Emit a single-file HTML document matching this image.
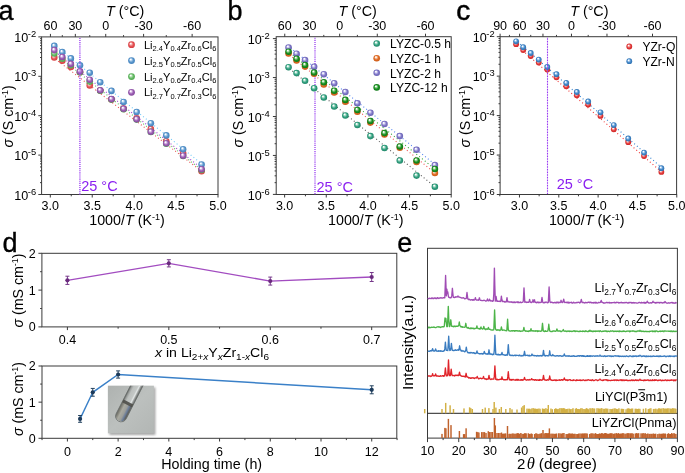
<!DOCTYPE html><html><head><meta charset="utf-8"><title>Figure</title><style>html,body{margin:0;padding:0;background:#fff;width:685px;height:473px;overflow:hidden}svg{display:block;font-family:"Liberation Sans",sans-serif;will-change:transform}</style></head><body><svg width="685" height="473" viewBox="0 0 685 473" font-family="Liberation Sans, sans-serif"><defs><radialGradient id="g_red" cx="0.5" cy="0.5" r="0.52" fx="0.36" fy="0.3"><stop offset="0" stop-color="#ffffff"/><stop offset="0.13" stop-color="#ffffff" stop-opacity="0.95"/><stop offset="0.3" stop-color="#f4b0b0"/><stop offset="0.62" stop-color="#e65456"/><stop offset="1" stop-color="#d43c40"/></radialGradient><radialGradient id="g_blue" cx="0.5" cy="0.5" r="0.52" fx="0.36" fy="0.3"><stop offset="0" stop-color="#ffffff"/><stop offset="0.13" stop-color="#ffffff" stop-opacity="0.95"/><stop offset="0.3" stop-color="#b4d2ee"/><stop offset="0.62" stop-color="#5896cc"/><stop offset="1" stop-color="#4682bc"/></radialGradient><radialGradient id="g_green" cx="0.5" cy="0.5" r="0.52" fx="0.36" fy="0.3"><stop offset="0" stop-color="#ffffff"/><stop offset="0.13" stop-color="#ffffff" stop-opacity="0.95"/><stop offset="0.3" stop-color="#b8e4b8"/><stop offset="0.62" stop-color="#68bc68"/><stop offset="1" stop-color="#4ca44c"/></radialGradient><radialGradient id="g_purple" cx="0.5" cy="0.5" r="0.52" fx="0.36" fy="0.3"><stop offset="0" stop-color="#ffffff"/><stop offset="0.13" stop-color="#ffffff" stop-opacity="0.95"/><stop offset="0.3" stop-color="#dcbce6"/><stop offset="0.62" stop-color="#9c60b4"/><stop offset="1" stop-color="#84489c"/></radialGradient><radialGradient id="g_teal" cx="0.5" cy="0.5" r="0.52" fx="0.36" fy="0.3"><stop offset="0" stop-color="#ffffff"/><stop offset="0.13" stop-color="#ffffff" stop-opacity="0.95"/><stop offset="0.3" stop-color="#a8dcc8"/><stop offset="0.62" stop-color="#34a282"/><stop offset="1" stop-color="#208466"/></radialGradient><radialGradient id="g_orange" cx="0.5" cy="0.5" r="0.52" fx="0.36" fy="0.3"><stop offset="0" stop-color="#ffffff"/><stop offset="0.13" stop-color="#ffffff" stop-opacity="0.95"/><stop offset="0.3" stop-color="#f4c4a0"/><stop offset="0.62" stop-color="#e26c26"/><stop offset="1" stop-color="#c85814"/></radialGradient><radialGradient id="g_lav" cx="0.5" cy="0.5" r="0.52" fx="0.36" fy="0.3"><stop offset="0" stop-color="#ffffff"/><stop offset="0.13" stop-color="#ffffff" stop-opacity="0.95"/><stop offset="0.3" stop-color="#ccc8f0"/><stop offset="0.62" stop-color="#8078c8"/><stop offset="1" stop-color="#6660b0"/></radialGradient><radialGradient id="g_dgreen" cx="0.5" cy="0.5" r="0.52" fx="0.36" fy="0.3"><stop offset="0" stop-color="#ffffff"/><stop offset="0.13" stop-color="#ffffff" stop-opacity="0.95"/><stop offset="0.3" stop-color="#98d498"/><stop offset="0.62" stop-color="#1c9224"/><stop offset="1" stop-color="#0a7412"/></radialGradient><radialGradient id="g_cred" cx="0.5" cy="0.5" r="0.52" fx="0.36" fy="0.3"><stop offset="0" stop-color="#ffffff"/><stop offset="0.13" stop-color="#ffffff" stop-opacity="0.95"/><stop offset="0.3" stop-color="#f4a8a8"/><stop offset="0.62" stop-color="#e43c3c"/><stop offset="1" stop-color="#cc2424"/></radialGradient><radialGradient id="g_cblue" cx="0.5" cy="0.5" r="0.52" fx="0.36" fy="0.3"><stop offset="0" stop-color="#ffffff"/><stop offset="0.13" stop-color="#ffffff" stop-opacity="0.95"/><stop offset="0.3" stop-color="#a8ccf0"/><stop offset="0.62" stop-color="#4488c8"/><stop offset="1" stop-color="#2e70b0"/></radialGradient></defs><rect width="685" height="473" fill="#fff"/><rect x="41.60" y="36.90" width="176.40" height="157.60" fill="none" stroke="#3a3a3a" stroke-width="1"/>
<line x1="50.43" y1="36.90" x2="50.43" y2="33.90" stroke="#3a3a3a" stroke-width="1" />
<line x1="75.34" y1="36.90" x2="75.34" y2="33.90" stroke="#3a3a3a" stroke-width="1" />
<line x1="105.72" y1="36.90" x2="105.72" y2="33.90" stroke="#3a3a3a" stroke-width="1" />
<line x1="143.60" y1="36.90" x2="143.60" y2="33.90" stroke="#3a3a3a" stroke-width="1" />
<line x1="192.13" y1="36.90" x2="192.13" y2="33.90" stroke="#3a3a3a" stroke-width="1" />
<line x1="62.30" y1="36.90" x2="62.30" y2="35.10" stroke="#3a3a3a" stroke-width="1" />
<line x1="89.74" y1="36.90" x2="89.74" y2="35.10" stroke="#3a3a3a" stroke-width="1" />
<line x1="123.56" y1="36.90" x2="123.56" y2="35.10" stroke="#3a3a3a" stroke-width="1" />
<line x1="166.27" y1="36.90" x2="166.27" y2="35.10" stroke="#3a3a3a" stroke-width="1" />
<text x="50.43" y="30.20" font-size="12.5" text-anchor="middle" fill="#000" >60</text>
<text x="75.34" y="30.20" font-size="12.5" text-anchor="middle" fill="#000" >30</text>
<text x="105.72" y="30.20" font-size="12.5" text-anchor="middle" fill="#000" >0</text>
<text x="143.60" y="30.20" font-size="12.5" text-anchor="middle" fill="#000" >-30</text>
<text x="192.13" y="30.20" font-size="12.5" text-anchor="middle" fill="#000" >-60</text>
<line x1="50.30" y1="194.50" x2="50.30" y2="197.50" stroke="#3a3a3a" stroke-width="1" />
<line x1="92.22" y1="194.50" x2="92.22" y2="197.50" stroke="#3a3a3a" stroke-width="1" />
<line x1="134.15" y1="194.50" x2="134.15" y2="197.50" stroke="#3a3a3a" stroke-width="1" />
<line x1="176.07" y1="194.50" x2="176.07" y2="197.50" stroke="#3a3a3a" stroke-width="1" />
<line x1="218.00" y1="194.50" x2="218.00" y2="197.50" stroke="#3a3a3a" stroke-width="1" />
<line x1="71.26" y1="194.50" x2="71.26" y2="196.30" stroke="#3a3a3a" stroke-width="1" />
<line x1="113.18" y1="194.50" x2="113.18" y2="196.30" stroke="#3a3a3a" stroke-width="1" />
<line x1="155.11" y1="194.50" x2="155.11" y2="196.30" stroke="#3a3a3a" stroke-width="1" />
<line x1="197.04" y1="194.50" x2="197.04" y2="196.30" stroke="#3a3a3a" stroke-width="1" />
<text x="50.30" y="210.40" font-size="12.5" text-anchor="middle" fill="#000" >3.0</text>
<text x="92.22" y="210.40" font-size="12.5" text-anchor="middle" fill="#000" >3.5</text>
<text x="134.15" y="210.40" font-size="12.5" text-anchor="middle" fill="#000" >4.0</text>
<text x="176.07" y="210.40" font-size="12.5" text-anchor="middle" fill="#000" >4.5</text>
<text x="218.00" y="210.40" font-size="12.5" text-anchor="middle" fill="#000" >5.0</text>
<line x1="41.60" y1="36.90" x2="38.30" y2="36.90" stroke="#3a3a3a" stroke-width="1" />
<line x1="41.60" y1="64.44" x2="40.00" y2="64.44" stroke="#3a3a3a" stroke-width="1" />
<line x1="41.60" y1="57.50" x2="40.00" y2="57.50" stroke="#3a3a3a" stroke-width="1" />
<line x1="41.60" y1="52.58" x2="40.00" y2="52.58" stroke="#3a3a3a" stroke-width="1" />
<line x1="41.60" y1="48.76" x2="40.00" y2="48.76" stroke="#3a3a3a" stroke-width="1" />
<line x1="41.60" y1="45.64" x2="40.00" y2="45.64" stroke="#3a3a3a" stroke-width="1" />
<line x1="41.60" y1="43.00" x2="40.00" y2="43.00" stroke="#3a3a3a" stroke-width="1" />
<line x1="41.60" y1="40.72" x2="40.00" y2="40.72" stroke="#3a3a3a" stroke-width="1" />
<line x1="41.60" y1="38.70" x2="40.00" y2="38.70" stroke="#3a3a3a" stroke-width="1" />
<line x1="41.60" y1="76.30" x2="38.30" y2="76.30" stroke="#3a3a3a" stroke-width="1" />
<line x1="41.60" y1="103.84" x2="40.00" y2="103.84" stroke="#3a3a3a" stroke-width="1" />
<line x1="41.60" y1="96.90" x2="40.00" y2="96.90" stroke="#3a3a3a" stroke-width="1" />
<line x1="41.60" y1="91.98" x2="40.00" y2="91.98" stroke="#3a3a3a" stroke-width="1" />
<line x1="41.60" y1="88.16" x2="40.00" y2="88.16" stroke="#3a3a3a" stroke-width="1" />
<line x1="41.60" y1="85.04" x2="40.00" y2="85.04" stroke="#3a3a3a" stroke-width="1" />
<line x1="41.60" y1="82.40" x2="40.00" y2="82.40" stroke="#3a3a3a" stroke-width="1" />
<line x1="41.60" y1="80.12" x2="40.00" y2="80.12" stroke="#3a3a3a" stroke-width="1" />
<line x1="41.60" y1="78.10" x2="40.00" y2="78.10" stroke="#3a3a3a" stroke-width="1" />
<line x1="41.60" y1="115.70" x2="38.30" y2="115.70" stroke="#3a3a3a" stroke-width="1" />
<line x1="41.60" y1="143.24" x2="40.00" y2="143.24" stroke="#3a3a3a" stroke-width="1" />
<line x1="41.60" y1="136.30" x2="40.00" y2="136.30" stroke="#3a3a3a" stroke-width="1" />
<line x1="41.60" y1="131.38" x2="40.00" y2="131.38" stroke="#3a3a3a" stroke-width="1" />
<line x1="41.60" y1="127.56" x2="40.00" y2="127.56" stroke="#3a3a3a" stroke-width="1" />
<line x1="41.60" y1="124.44" x2="40.00" y2="124.44" stroke="#3a3a3a" stroke-width="1" />
<line x1="41.60" y1="121.80" x2="40.00" y2="121.80" stroke="#3a3a3a" stroke-width="1" />
<line x1="41.60" y1="119.52" x2="40.00" y2="119.52" stroke="#3a3a3a" stroke-width="1" />
<line x1="41.60" y1="117.50" x2="40.00" y2="117.50" stroke="#3a3a3a" stroke-width="1" />
<line x1="41.60" y1="155.10" x2="38.30" y2="155.10" stroke="#3a3a3a" stroke-width="1" />
<line x1="41.60" y1="182.64" x2="40.00" y2="182.64" stroke="#3a3a3a" stroke-width="1" />
<line x1="41.60" y1="175.70" x2="40.00" y2="175.70" stroke="#3a3a3a" stroke-width="1" />
<line x1="41.60" y1="170.78" x2="40.00" y2="170.78" stroke="#3a3a3a" stroke-width="1" />
<line x1="41.60" y1="166.96" x2="40.00" y2="166.96" stroke="#3a3a3a" stroke-width="1" />
<line x1="41.60" y1="163.84" x2="40.00" y2="163.84" stroke="#3a3a3a" stroke-width="1" />
<line x1="41.60" y1="161.20" x2="40.00" y2="161.20" stroke="#3a3a3a" stroke-width="1" />
<line x1="41.60" y1="158.92" x2="40.00" y2="158.92" stroke="#3a3a3a" stroke-width="1" />
<line x1="41.60" y1="156.90" x2="40.00" y2="156.90" stroke="#3a3a3a" stroke-width="1" />
<line x1="41.60" y1="194.50" x2="38.30" y2="194.50" stroke="#3a3a3a" stroke-width="1" />
<text x="36.20" y="42.00" font-size="12.6" text-anchor="end" fill="#000">10<tspan font-size="9.4" dx="-0.4" dy="-5.0">-2</tspan></text>
<text x="36.20" y="81.40" font-size="12.6" text-anchor="end" fill="#000">10<tspan font-size="9.4" dx="-0.4" dy="-5.0">-3</tspan></text>
<text x="36.20" y="120.80" font-size="12.6" text-anchor="end" fill="#000">10<tspan font-size="9.4" dx="-0.4" dy="-5.0">-4</tspan></text>
<text x="36.20" y="160.20" font-size="12.6" text-anchor="end" fill="#000">10<tspan font-size="9.4" dx="-0.4" dy="-5.0">-5</tspan></text>
<text x="36.20" y="199.60" font-size="12.6" text-anchor="end" fill="#000">10<tspan font-size="9.4" dx="-0.4" dy="-5.0">-6</tspan></text>
<path d="M55.27,58.90 L201.58,171.30" fill="none" stroke="#e85050" stroke-width="1.1" stroke-dasharray="1 2.6"/>
<path d="M55.77,54.40 L201.58,170.00" fill="none" stroke="#58c058" stroke-width="1.1" stroke-dasharray="1 2.6"/>
<path d="M55.27,51.60 L202.58,169.20" fill="none" stroke="#a040d0" stroke-width="1.1" stroke-dasharray="1 2.6"/>
<path d="M56.27,46.40 L203.08,165.00" fill="none" stroke="#70c8f8" stroke-width="1.1" stroke-dasharray="1 2.6"/>
<circle cx="54.27" cy="57.40" r="3.3" fill="url(#g_red)"/>
<circle cx="62.30" cy="60.70" r="3.3" fill="url(#g_red)"/>
<circle cx="70.85" cy="67.00" r="3.3" fill="url(#g_red)"/>
<circle cx="79.98" cy="72.20" r="3.3" fill="url(#g_red)"/>
<circle cx="89.74" cy="85.40" r="3.3" fill="url(#g_red)"/>
<circle cx="100.20" cy="90.60" r="3.3" fill="url(#g_red)"/>
<circle cx="111.45" cy="99.40" r="3.3" fill="url(#g_red)"/>
<circle cx="123.56" cy="108.60" r="3.3" fill="url(#g_red)"/>
<circle cx="136.65" cy="118.20" r="3.3" fill="url(#g_red)"/>
<circle cx="150.84" cy="129.00" r="3.3" fill="url(#g_red)"/>
<circle cx="166.27" cy="141.20" r="3.3" fill="url(#g_red)"/>
<circle cx="183.12" cy="153.20" r="3.3" fill="url(#g_red)"/>
<circle cx="201.58" cy="171.30" r="3.3" fill="url(#g_red)"/>
<circle cx="54.27" cy="45.90" r="3.3" fill="url(#g_blue)"/>
<circle cx="62.30" cy="52.10" r="3.3" fill="url(#g_blue)"/>
<circle cx="70.85" cy="58.40" r="3.3" fill="url(#g_blue)"/>
<circle cx="79.98" cy="65.30" r="3.3" fill="url(#g_blue)"/>
<circle cx="89.74" cy="72.70" r="3.3" fill="url(#g_blue)"/>
<circle cx="100.20" cy="82.20" r="3.3" fill="url(#g_blue)"/>
<circle cx="111.45" cy="90.90" r="3.3" fill="url(#g_blue)"/>
<circle cx="123.56" cy="102.00" r="3.3" fill="url(#g_blue)"/>
<circle cx="136.65" cy="112.00" r="3.3" fill="url(#g_blue)"/>
<circle cx="150.84" cy="123.20" r="3.3" fill="url(#g_blue)"/>
<circle cx="166.27" cy="135.40" r="3.3" fill="url(#g_blue)"/>
<circle cx="183.12" cy="149.30" r="3.3" fill="url(#g_blue)"/>
<circle cx="201.58" cy="164.50" r="3.3" fill="url(#g_blue)"/>
<circle cx="54.27" cy="53.40" r="3.3" fill="url(#g_green)"/>
<circle cx="62.30" cy="58.70" r="3.3" fill="url(#g_green)"/>
<circle cx="70.85" cy="65.30" r="3.3" fill="url(#g_green)"/>
<circle cx="79.98" cy="72.20" r="3.3" fill="url(#g_green)"/>
<circle cx="89.74" cy="81.60" r="3.3" fill="url(#g_green)"/>
<circle cx="100.20" cy="90.80" r="3.3" fill="url(#g_green)"/>
<circle cx="111.45" cy="99.60" r="3.3" fill="url(#g_green)"/>
<circle cx="123.56" cy="109.20" r="3.3" fill="url(#g_green)"/>
<circle cx="136.65" cy="119.60" r="3.3" fill="url(#g_green)"/>
<circle cx="150.84" cy="131.90" r="3.3" fill="url(#g_green)"/>
<circle cx="166.27" cy="143.70" r="3.3" fill="url(#g_green)"/>
<circle cx="183.12" cy="156.00" r="3.3" fill="url(#g_green)"/>
<circle cx="201.58" cy="170.00" r="3.3" fill="url(#g_green)"/>
<circle cx="54.27" cy="50.10" r="3.3" fill="url(#g_purple)"/>
<circle cx="62.30" cy="57.00" r="3.3" fill="url(#g_purple)"/>
<circle cx="70.85" cy="63.90" r="3.3" fill="url(#g_purple)"/>
<circle cx="79.98" cy="71.40" r="3.3" fill="url(#g_purple)"/>
<circle cx="89.74" cy="79.70" r="3.3" fill="url(#g_purple)"/>
<circle cx="100.20" cy="90.30" r="3.3" fill="url(#g_purple)"/>
<circle cx="111.45" cy="99.10" r="3.3" fill="url(#g_purple)"/>
<circle cx="123.56" cy="108.80" r="3.3" fill="url(#g_purple)"/>
<circle cx="136.65" cy="119.20" r="3.3" fill="url(#g_purple)"/>
<circle cx="150.84" cy="131.70" r="3.3" fill="url(#g_purple)"/>
<circle cx="166.27" cy="143.30" r="3.3" fill="url(#g_purple)"/>
<circle cx="183.12" cy="155.70" r="3.3" fill="url(#g_purple)"/>
<circle cx="201.58" cy="169.20" r="3.3" fill="url(#g_purple)"/>
<path d="M79.15,37.90h1.5v1.1h-1.5zM79.15,40.00h1.5v1.1h-1.5zM79.15,42.10h1.5v1.1h-1.5zM79.15,44.20h1.5v1.1h-1.5zM79.15,46.30h1.5v1.1h-1.5zM79.15,48.40h1.5v1.1h-1.5zM79.15,50.50h1.5v1.1h-1.5zM79.15,52.60h1.5v1.1h-1.5zM79.15,54.70h1.5v1.1h-1.5zM79.15,56.80h1.5v1.1h-1.5zM79.15,58.90h1.5v1.1h-1.5zM79.15,61.00h1.5v1.1h-1.5zM79.15,63.10h1.5v1.1h-1.5zM79.15,65.20h1.5v1.1h-1.5zM79.15,67.30h1.5v1.1h-1.5zM79.15,69.40h1.5v1.1h-1.5zM79.15,71.50h1.5v1.1h-1.5zM79.15,73.60h1.5v1.1h-1.5zM79.15,75.70h1.5v1.1h-1.5zM79.15,77.80h1.5v1.1h-1.5zM79.15,79.90h1.5v1.1h-1.5zM79.15,82.00h1.5v1.1h-1.5zM79.15,84.10h1.5v1.1h-1.5zM79.15,86.20h1.5v1.1h-1.5zM79.15,88.30h1.5v1.1h-1.5zM79.15,90.40h1.5v1.1h-1.5zM79.15,92.50h1.5v1.1h-1.5zM79.15,94.60h1.5v1.1h-1.5zM79.15,96.70h1.5v1.1h-1.5zM79.15,98.80h1.5v1.1h-1.5zM79.15,100.90h1.5v1.1h-1.5zM79.15,103.00h1.5v1.1h-1.5zM79.15,105.10h1.5v1.1h-1.5zM79.15,107.20h1.5v1.1h-1.5zM79.15,109.30h1.5v1.1h-1.5zM79.15,111.40h1.5v1.1h-1.5zM79.15,113.50h1.5v1.1h-1.5zM79.15,115.60h1.5v1.1h-1.5zM79.15,117.70h1.5v1.1h-1.5zM79.15,119.80h1.5v1.1h-1.5zM79.15,121.90h1.5v1.1h-1.5zM79.15,124.00h1.5v1.1h-1.5zM79.15,126.10h1.5v1.1h-1.5zM79.15,128.20h1.5v1.1h-1.5zM79.15,130.30h1.5v1.1h-1.5zM79.15,132.40h1.5v1.1h-1.5zM79.15,134.50h1.5v1.1h-1.5zM79.15,136.60h1.5v1.1h-1.5zM79.15,138.70h1.5v1.1h-1.5zM79.15,140.80h1.5v1.1h-1.5zM79.15,142.90h1.5v1.1h-1.5zM79.15,145.00h1.5v1.1h-1.5zM79.15,147.10h1.5v1.1h-1.5zM79.15,149.20h1.5v1.1h-1.5zM79.15,151.30h1.5v1.1h-1.5zM79.15,153.40h1.5v1.1h-1.5zM79.15,155.50h1.5v1.1h-1.5zM79.15,157.60h1.5v1.1h-1.5zM79.15,159.70h1.5v1.1h-1.5zM79.15,161.80h1.5v1.1h-1.5zM79.15,163.90h1.5v1.1h-1.5zM79.15,166.00h1.5v1.1h-1.5zM79.15,168.10h1.5v1.1h-1.5zM79.15,170.20h1.5v1.1h-1.5zM79.15,172.30h1.5v1.1h-1.5zM79.15,174.40h1.5v1.1h-1.5zM79.15,176.50h1.5v1.1h-1.5zM79.15,178.60h1.5v1.1h-1.5zM79.15,180.70h1.5v1.1h-1.5zM79.15,182.80h1.5v1.1h-1.5zM79.15,184.90h1.5v1.1h-1.5zM79.15,187.00h1.5v1.1h-1.5zM79.15,189.10h1.5v1.1h-1.5zM79.15,191.20h1.5v1.1h-1.5zM79.15,193.30h1.5v1.1h-1.5z" fill="#a452f2"/>
<circle cx="131.50" cy="44.70" r="3.4" fill="url(#g_red)"/>
<text x="143.9" y="48.70" font-size="11.1" fill="#000"><tspan>Li</tspan><tspan font-size="7.50" dy="2.70">2.4</tspan><tspan dy="-2.70">Y</tspan><tspan font-size="7.50" dy="2.70">0.4</tspan><tspan dy="-2.70">Zr</tspan><tspan font-size="7.50" dy="2.70">0.6</tspan><tspan dy="-2.70">Cl</tspan><tspan font-size="7.50" dy="2.70">6</tspan></text>
<circle cx="131.50" cy="60.60" r="3.4" fill="url(#g_blue)"/>
<text x="143.9" y="64.60" font-size="11.1" fill="#000"><tspan>Li</tspan><tspan font-size="7.50" dy="2.70">2.5</tspan><tspan dy="-2.70">Y</tspan><tspan font-size="7.50" dy="2.70">0.5</tspan><tspan dy="-2.70">Zr</tspan><tspan font-size="7.50" dy="2.70">0.5</tspan><tspan dy="-2.70">Cl</tspan><tspan font-size="7.50" dy="2.70">6</tspan></text>
<circle cx="131.50" cy="76.60" r="3.4" fill="url(#g_green)"/>
<text x="143.9" y="80.60" font-size="11.1" fill="#000"><tspan>Li</tspan><tspan font-size="7.50" dy="2.70">2.6</tspan><tspan dy="-2.70">Y</tspan><tspan font-size="7.50" dy="2.70">0.6</tspan><tspan dy="-2.70">Zr</tspan><tspan font-size="7.50" dy="2.70">0.4</tspan><tspan dy="-2.70">Cl</tspan><tspan font-size="7.50" dy="2.70">6</tspan></text>
<circle cx="131.50" cy="92.30" r="3.4" fill="url(#g_purple)"/>
<text x="143.9" y="96.30" font-size="11.1" fill="#000"><tspan>Li</tspan><tspan font-size="7.50" dy="2.70">2.7</tspan><tspan dy="-2.70">Y</tspan><tspan font-size="7.50" dy="2.70">0.7</tspan><tspan dy="-2.70">Zr</tspan><tspan font-size="7.50" dy="2.70">0.3</tspan><tspan dy="-2.70">Cl</tspan><tspan font-size="7.50" dy="2.70">6</tspan></text>
<text x="106.00" y="15.80" font-size="14.3" text-anchor="start" fill="#000" ><tspan font-style="italic">T</tspan> (°C)</text>
<text x="89.20" y="224.80" font-size="14.3" text-anchor="start" fill="#000" >1000/<tspan font-style="italic">T</tspan> (K<tspan font-size="9" dy="-5">-1</tspan><tspan dy="5">)</tspan></text>
<text transform="translate(13.2,116.3) rotate(-90)" x="0" y="0" font-size="14.2" text-anchor="middle" fill="#000"><tspan font-style="italic">σ</tspan> (S cm<tspan font-size="9" dy="-5">-1</tspan><tspan dy="5">)</tspan></text>
<text x="81.20" y="191.20" font-size="14.5" text-anchor="start" fill="#8a1ff0" >25 °C</text>
<text x="-1.40" y="19.70" font-size="27" text-anchor="start" fill="#000" stroke="#000" stroke-width="0.35">a</text>
<rect x="276.20" y="36.70" width="175.00" height="157.80" fill="none" stroke="#3a3a3a" stroke-width="1"/>
<line x1="284.75" y1="36.70" x2="284.75" y2="33.70" stroke="#3a3a3a" stroke-width="1" />
<line x1="309.49" y1="36.70" x2="309.49" y2="33.70" stroke="#3a3a3a" stroke-width="1" />
<line x1="339.67" y1="36.70" x2="339.67" y2="33.70" stroke="#3a3a3a" stroke-width="1" />
<line x1="377.29" y1="36.70" x2="377.29" y2="33.70" stroke="#3a3a3a" stroke-width="1" />
<line x1="425.51" y1="36.70" x2="425.51" y2="33.70" stroke="#3a3a3a" stroke-width="1" />
<line x1="296.54" y1="36.70" x2="296.54" y2="34.90" stroke="#3a3a3a" stroke-width="1" />
<line x1="323.79" y1="36.70" x2="323.79" y2="34.90" stroke="#3a3a3a" stroke-width="1" />
<line x1="357.39" y1="36.70" x2="357.39" y2="34.90" stroke="#3a3a3a" stroke-width="1" />
<line x1="399.81" y1="36.70" x2="399.81" y2="34.90" stroke="#3a3a3a" stroke-width="1" />
<text x="284.75" y="30.20" font-size="12.5" text-anchor="middle" fill="#000" >60</text>
<text x="309.49" y="30.20" font-size="12.5" text-anchor="middle" fill="#000" >30</text>
<text x="339.67" y="30.20" font-size="12.5" text-anchor="middle" fill="#000" >0</text>
<text x="377.29" y="30.20" font-size="12.5" text-anchor="middle" fill="#000" >-30</text>
<text x="425.51" y="30.20" font-size="12.5" text-anchor="middle" fill="#000" >-60</text>
<line x1="284.61" y1="194.50" x2="284.61" y2="197.50" stroke="#3a3a3a" stroke-width="1" />
<line x1="326.26" y1="194.50" x2="326.26" y2="197.50" stroke="#3a3a3a" stroke-width="1" />
<line x1="367.90" y1="194.50" x2="367.90" y2="197.50" stroke="#3a3a3a" stroke-width="1" />
<line x1="409.55" y1="194.50" x2="409.55" y2="197.50" stroke="#3a3a3a" stroke-width="1" />
<line x1="451.20" y1="194.50" x2="451.20" y2="197.50" stroke="#3a3a3a" stroke-width="1" />
<line x1="305.43" y1="194.50" x2="305.43" y2="196.30" stroke="#3a3a3a" stroke-width="1" />
<line x1="347.08" y1="194.50" x2="347.08" y2="196.30" stroke="#3a3a3a" stroke-width="1" />
<line x1="388.73" y1="194.50" x2="388.73" y2="196.30" stroke="#3a3a3a" stroke-width="1" />
<line x1="430.38" y1="194.50" x2="430.38" y2="196.30" stroke="#3a3a3a" stroke-width="1" />
<text x="284.61" y="210.40" font-size="12.5" text-anchor="middle" fill="#000" >3.0</text>
<text x="326.26" y="210.40" font-size="12.5" text-anchor="middle" fill="#000" >3.5</text>
<text x="367.90" y="210.40" font-size="12.5" text-anchor="middle" fill="#000" >4.0</text>
<text x="409.55" y="210.40" font-size="12.5" text-anchor="middle" fill="#000" >4.5</text>
<text x="451.20" y="210.40" font-size="12.5" text-anchor="middle" fill="#000" >5.0</text>
<line x1="276.20" y1="38.60" x2="272.90" y2="38.60" stroke="#3a3a3a" stroke-width="1" />
<line x1="276.20" y1="65.82" x2="274.60" y2="65.82" stroke="#3a3a3a" stroke-width="1" />
<line x1="276.20" y1="58.97" x2="274.60" y2="58.97" stroke="#3a3a3a" stroke-width="1" />
<line x1="276.20" y1="54.10" x2="274.60" y2="54.10" stroke="#3a3a3a" stroke-width="1" />
<line x1="276.20" y1="50.33" x2="274.60" y2="50.33" stroke="#3a3a3a" stroke-width="1" />
<line x1="276.20" y1="47.24" x2="274.60" y2="47.24" stroke="#3a3a3a" stroke-width="1" />
<line x1="276.20" y1="44.63" x2="274.60" y2="44.63" stroke="#3a3a3a" stroke-width="1" />
<line x1="276.20" y1="42.37" x2="274.60" y2="42.37" stroke="#3a3a3a" stroke-width="1" />
<line x1="276.20" y1="40.38" x2="274.60" y2="40.38" stroke="#3a3a3a" stroke-width="1" />
<line x1="276.20" y1="77.55" x2="272.90" y2="77.55" stroke="#3a3a3a" stroke-width="1" />
<line x1="276.20" y1="104.77" x2="274.60" y2="104.77" stroke="#3a3a3a" stroke-width="1" />
<line x1="276.20" y1="97.92" x2="274.60" y2="97.92" stroke="#3a3a3a" stroke-width="1" />
<line x1="276.20" y1="93.05" x2="274.60" y2="93.05" stroke="#3a3a3a" stroke-width="1" />
<line x1="276.20" y1="89.28" x2="274.60" y2="89.28" stroke="#3a3a3a" stroke-width="1" />
<line x1="276.20" y1="86.19" x2="274.60" y2="86.19" stroke="#3a3a3a" stroke-width="1" />
<line x1="276.20" y1="83.58" x2="274.60" y2="83.58" stroke="#3a3a3a" stroke-width="1" />
<line x1="276.20" y1="81.32" x2="274.60" y2="81.32" stroke="#3a3a3a" stroke-width="1" />
<line x1="276.20" y1="79.33" x2="274.60" y2="79.33" stroke="#3a3a3a" stroke-width="1" />
<line x1="276.20" y1="116.50" x2="272.90" y2="116.50" stroke="#3a3a3a" stroke-width="1" />
<line x1="276.20" y1="143.72" x2="274.60" y2="143.72" stroke="#3a3a3a" stroke-width="1" />
<line x1="276.20" y1="136.87" x2="274.60" y2="136.87" stroke="#3a3a3a" stroke-width="1" />
<line x1="276.20" y1="132.00" x2="274.60" y2="132.00" stroke="#3a3a3a" stroke-width="1" />
<line x1="276.20" y1="128.23" x2="274.60" y2="128.23" stroke="#3a3a3a" stroke-width="1" />
<line x1="276.20" y1="125.14" x2="274.60" y2="125.14" stroke="#3a3a3a" stroke-width="1" />
<line x1="276.20" y1="122.53" x2="274.60" y2="122.53" stroke="#3a3a3a" stroke-width="1" />
<line x1="276.20" y1="120.27" x2="274.60" y2="120.27" stroke="#3a3a3a" stroke-width="1" />
<line x1="276.20" y1="118.28" x2="274.60" y2="118.28" stroke="#3a3a3a" stroke-width="1" />
<line x1="276.20" y1="155.45" x2="272.90" y2="155.45" stroke="#3a3a3a" stroke-width="1" />
<line x1="276.20" y1="182.67" x2="274.60" y2="182.67" stroke="#3a3a3a" stroke-width="1" />
<line x1="276.20" y1="175.82" x2="274.60" y2="175.82" stroke="#3a3a3a" stroke-width="1" />
<line x1="276.20" y1="170.95" x2="274.60" y2="170.95" stroke="#3a3a3a" stroke-width="1" />
<line x1="276.20" y1="167.18" x2="274.60" y2="167.18" stroke="#3a3a3a" stroke-width="1" />
<line x1="276.20" y1="164.09" x2="274.60" y2="164.09" stroke="#3a3a3a" stroke-width="1" />
<line x1="276.20" y1="161.48" x2="274.60" y2="161.48" stroke="#3a3a3a" stroke-width="1" />
<line x1="276.20" y1="159.22" x2="274.60" y2="159.22" stroke="#3a3a3a" stroke-width="1" />
<line x1="276.20" y1="157.23" x2="274.60" y2="157.23" stroke="#3a3a3a" stroke-width="1" />
<line x1="276.20" y1="194.40" x2="272.90" y2="194.40" stroke="#3a3a3a" stroke-width="1" />
<text x="269.70" y="43.70" font-size="12.6" text-anchor="end" fill="#000">10<tspan font-size="9.4" dx="-0.4" dy="-5.0">-2</tspan></text>
<text x="269.70" y="82.65" font-size="12.6" text-anchor="end" fill="#000">10<tspan font-size="9.4" dx="-0.4" dy="-5.0">-3</tspan></text>
<text x="269.70" y="121.60" font-size="12.6" text-anchor="end" fill="#000">10<tspan font-size="9.4" dx="-0.4" dy="-5.0">-4</tspan></text>
<text x="269.70" y="160.55" font-size="12.6" text-anchor="end" fill="#000">10<tspan font-size="9.4" dx="-0.4" dy="-5.0">-5</tspan></text>
<text x="269.70" y="199.50" font-size="12.6" text-anchor="end" fill="#000">10<tspan font-size="9.4" dx="-0.4" dy="-5.0">-6</tspan></text>
<path d="M314.25,37.70h1.5v1.1h-1.5zM314.25,39.80h1.5v1.1h-1.5zM314.25,41.90h1.5v1.1h-1.5zM314.25,44.00h1.5v1.1h-1.5zM314.25,46.10h1.5v1.1h-1.5zM314.25,48.20h1.5v1.1h-1.5zM314.25,50.30h1.5v1.1h-1.5zM314.25,52.40h1.5v1.1h-1.5zM314.25,54.50h1.5v1.1h-1.5zM314.25,56.60h1.5v1.1h-1.5zM314.25,58.70h1.5v1.1h-1.5zM314.25,60.80h1.5v1.1h-1.5zM314.25,62.90h1.5v1.1h-1.5zM314.25,65.00h1.5v1.1h-1.5zM314.25,67.10h1.5v1.1h-1.5zM314.25,69.20h1.5v1.1h-1.5zM314.25,71.30h1.5v1.1h-1.5zM314.25,73.40h1.5v1.1h-1.5zM314.25,75.50h1.5v1.1h-1.5zM314.25,77.60h1.5v1.1h-1.5zM314.25,79.70h1.5v1.1h-1.5zM314.25,81.80h1.5v1.1h-1.5zM314.25,83.90h1.5v1.1h-1.5zM314.25,86.00h1.5v1.1h-1.5zM314.25,88.10h1.5v1.1h-1.5zM314.25,90.20h1.5v1.1h-1.5zM314.25,92.30h1.5v1.1h-1.5zM314.25,94.40h1.5v1.1h-1.5zM314.25,96.50h1.5v1.1h-1.5zM314.25,98.60h1.5v1.1h-1.5zM314.25,100.70h1.5v1.1h-1.5zM314.25,102.80h1.5v1.1h-1.5zM314.25,104.90h1.5v1.1h-1.5zM314.25,107.00h1.5v1.1h-1.5zM314.25,109.10h1.5v1.1h-1.5zM314.25,111.20h1.5v1.1h-1.5zM314.25,113.30h1.5v1.1h-1.5zM314.25,115.40h1.5v1.1h-1.5zM314.25,117.50h1.5v1.1h-1.5zM314.25,119.60h1.5v1.1h-1.5zM314.25,121.70h1.5v1.1h-1.5zM314.25,123.80h1.5v1.1h-1.5zM314.25,125.90h1.5v1.1h-1.5zM314.25,128.00h1.5v1.1h-1.5zM314.25,130.10h1.5v1.1h-1.5zM314.25,132.20h1.5v1.1h-1.5zM314.25,134.30h1.5v1.1h-1.5zM314.25,136.40h1.5v1.1h-1.5zM314.25,138.50h1.5v1.1h-1.5zM314.25,140.60h1.5v1.1h-1.5zM314.25,142.70h1.5v1.1h-1.5zM314.25,144.80h1.5v1.1h-1.5zM314.25,146.90h1.5v1.1h-1.5zM314.25,149.00h1.5v1.1h-1.5zM314.25,151.10h1.5v1.1h-1.5zM314.25,153.20h1.5v1.1h-1.5zM314.25,155.30h1.5v1.1h-1.5zM314.25,157.40h1.5v1.1h-1.5zM314.25,159.50h1.5v1.1h-1.5zM314.25,161.60h1.5v1.1h-1.5zM314.25,163.70h1.5v1.1h-1.5zM314.25,165.80h1.5v1.1h-1.5zM314.25,167.90h1.5v1.1h-1.5zM314.25,170.00h1.5v1.1h-1.5zM314.25,172.10h1.5v1.1h-1.5zM314.25,174.20h1.5v1.1h-1.5zM314.25,176.30h1.5v1.1h-1.5zM314.25,178.40h1.5v1.1h-1.5zM314.25,180.50h1.5v1.1h-1.5zM314.25,182.60h1.5v1.1h-1.5zM314.25,184.70h1.5v1.1h-1.5zM314.25,186.80h1.5v1.1h-1.5zM314.25,188.90h1.5v1.1h-1.5zM314.25,191.00h1.5v1.1h-1.5zM314.25,193.10h1.5v1.1h-1.5z" fill="#a658f2"/>
<path d="M289.56,68.70 L434.89,186.70" fill="none" stroke="#555555" stroke-width="1.1" stroke-dasharray="1 2.6"/>
<path d="M289.56,54.90 L434.89,173.00" fill="none" stroke="#f05050" stroke-width="1.1" stroke-dasharray="1 2.6"/>
<path d="M290.06,52.70 L434.89,169.00" fill="none" stroke="#30a030" stroke-width="1.1" stroke-dasharray="1 2.6"/>
<path d="M290.56,48.00 L436.39,165.60" fill="none" stroke="#5080f0" stroke-width="1.1" stroke-dasharray="1 2.6"/>
<circle cx="288.56" cy="67.20" r="3.3" fill="url(#g_teal)"/>
<circle cx="296.54" cy="73.10" r="3.3" fill="url(#g_teal)"/>
<circle cx="305.03" cy="80.80" r="3.3" fill="url(#g_teal)"/>
<circle cx="314.10" cy="88.20" r="3.3" fill="url(#g_teal)"/>
<circle cx="323.79" cy="97.50" r="3.3" fill="url(#g_teal)"/>
<circle cx="334.19" cy="106.50" r="3.3" fill="url(#g_teal)"/>
<circle cx="345.35" cy="115.50" r="3.3" fill="url(#g_teal)"/>
<circle cx="357.39" cy="125.00" r="3.3" fill="url(#g_teal)"/>
<circle cx="370.39" cy="136.10" r="3.3" fill="url(#g_teal)"/>
<circle cx="384.48" cy="148.00" r="3.3" fill="url(#g_teal)"/>
<circle cx="399.81" cy="160.50" r="3.3" fill="url(#g_teal)"/>
<circle cx="416.55" cy="175.60" r="3.3" fill="url(#g_teal)"/>
<circle cx="434.89" cy="186.70" r="3.3" fill="url(#g_teal)"/>
<circle cx="288.56" cy="53.40" r="3.3" fill="url(#g_orange)"/>
<circle cx="296.54" cy="60.40" r="3.3" fill="url(#g_orange)"/>
<circle cx="305.03" cy="66.60" r="3.3" fill="url(#g_orange)"/>
<circle cx="314.10" cy="73.80" r="3.3" fill="url(#g_orange)"/>
<circle cx="323.79" cy="84.50" r="3.3" fill="url(#g_orange)"/>
<circle cx="334.19" cy="92.40" r="3.3" fill="url(#g_orange)"/>
<circle cx="345.35" cy="101.70" r="3.3" fill="url(#g_orange)"/>
<circle cx="357.39" cy="111.80" r="3.3" fill="url(#g_orange)"/>
<circle cx="370.39" cy="122.60" r="3.3" fill="url(#g_orange)"/>
<circle cx="384.48" cy="134.50" r="3.3" fill="url(#g_orange)"/>
<circle cx="399.81" cy="147.80" r="3.3" fill="url(#g_orange)"/>
<circle cx="416.55" cy="162.00" r="3.3" fill="url(#g_orange)"/>
<circle cx="434.89" cy="173.00" r="3.3" fill="url(#g_orange)"/>
<circle cx="288.56" cy="47.50" r="3.3" fill="url(#g_lav)"/>
<circle cx="296.54" cy="53.70" r="3.3" fill="url(#g_lav)"/>
<circle cx="305.03" cy="60.00" r="3.3" fill="url(#g_lav)"/>
<circle cx="314.10" cy="66.80" r="3.3" fill="url(#g_lav)"/>
<circle cx="323.79" cy="74.20" r="3.3" fill="url(#g_lav)"/>
<circle cx="334.19" cy="83.20" r="3.3" fill="url(#g_lav)"/>
<circle cx="345.35" cy="92.00" r="3.3" fill="url(#g_lav)"/>
<circle cx="357.39" cy="103.30" r="3.3" fill="url(#g_lav)"/>
<circle cx="370.39" cy="112.70" r="3.3" fill="url(#g_lav)"/>
<circle cx="384.48" cy="124.00" r="3.3" fill="url(#g_lav)"/>
<circle cx="399.81" cy="136.10" r="3.3" fill="url(#g_lav)"/>
<circle cx="416.55" cy="149.80" r="3.3" fill="url(#g_lav)"/>
<circle cx="434.89" cy="165.10" r="3.3" fill="url(#g_lav)"/>
<circle cx="288.56" cy="51.70" r="3.3" fill="url(#g_dgreen)"/>
<circle cx="296.54" cy="58.70" r="3.3" fill="url(#g_dgreen)"/>
<circle cx="305.03" cy="65.00" r="3.3" fill="url(#g_dgreen)"/>
<circle cx="314.10" cy="72.50" r="3.3" fill="url(#g_dgreen)"/>
<circle cx="323.79" cy="82.20" r="3.3" fill="url(#g_dgreen)"/>
<circle cx="334.19" cy="90.70" r="3.3" fill="url(#g_dgreen)"/>
<circle cx="345.35" cy="99.90" r="3.3" fill="url(#g_dgreen)"/>
<circle cx="357.39" cy="110.00" r="3.3" fill="url(#g_dgreen)"/>
<circle cx="370.39" cy="121.00" r="3.3" fill="url(#g_dgreen)"/>
<circle cx="384.48" cy="133.10" r="3.3" fill="url(#g_dgreen)"/>
<circle cx="399.81" cy="146.50" r="3.3" fill="url(#g_dgreen)"/>
<circle cx="416.55" cy="160.50" r="3.3" fill="url(#g_dgreen)"/>
<circle cx="434.89" cy="169.00" r="3.3" fill="url(#g_dgreen)"/>
<circle cx="376.70" cy="43.50" r="3.3" fill="url(#g_teal)"/>
<text x="390.10" y="48.20" font-size="12.1" text-anchor="start" fill="#000" >LYZC-0.5 h</text>
<circle cx="376.70" cy="58.20" r="3.3" fill="url(#g_orange)"/>
<text x="390.10" y="62.90" font-size="12.1" text-anchor="start" fill="#000" >LYZC-1 h</text>
<circle cx="376.70" cy="72.80" r="3.3" fill="url(#g_lav)"/>
<text x="390.10" y="77.50" font-size="12.1" text-anchor="start" fill="#000" >LYZC-2 h</text>
<circle cx="376.70" cy="87.40" r="3.3" fill="url(#g_dgreen)"/>
<text x="390.10" y="92.10" font-size="12.1" text-anchor="start" fill="#000" >LYZC-12 h</text>
<text x="338.50" y="15.80" font-size="14.3" text-anchor="start" fill="#000" ><tspan font-style="italic">T</tspan> (°C)</text>
<text x="328.00" y="224.80" font-size="14.3" text-anchor="start" fill="#000" >1000/<tspan font-style="italic">T</tspan> (K<tspan font-size="9" dy="-5">-1</tspan><tspan dy="5">)</tspan></text>
<text transform="translate(242.5,116.3) rotate(-90)" x="0" y="0" font-size="14.2" text-anchor="middle" fill="#000"><tspan font-style="italic">σ</tspan> (S cm<tspan font-size="9" dy="-5">-1</tspan><tspan dy="5">)</tspan></text>
<text x="316.50" y="191.50" font-size="14.5" text-anchor="start" fill="#8a1ff0" >25 °C</text>
<text x="227.40" y="19.70" font-size="27" text-anchor="start" fill="#000" stroke="#000" stroke-width="0.35">b</text>
<rect x="500.10" y="36.70" width="176.50" height="157.80" fill="none" stroke="#3a3a3a" stroke-width="1"/>
<line x1="500.10" y1="36.70" x2="500.10" y2="33.70" stroke="#3a3a3a" stroke-width="1" />
<line x1="519.60" y1="36.70" x2="519.60" y2="33.70" stroke="#3a3a3a" stroke-width="1" />
<line x1="542.96" y1="36.70" x2="542.96" y2="33.70" stroke="#3a3a3a" stroke-width="1" />
<line x1="571.46" y1="36.70" x2="571.46" y2="33.70" stroke="#3a3a3a" stroke-width="1" />
<line x1="606.98" y1="36.70" x2="606.98" y2="33.70" stroke="#3a3a3a" stroke-width="1" />
<line x1="652.51" y1="36.70" x2="652.51" y2="33.70" stroke="#3a3a3a" stroke-width="1" />
<line x1="509.43" y1="36.70" x2="509.43" y2="34.90" stroke="#3a3a3a" stroke-width="1" />
<line x1="530.73" y1="36.70" x2="530.73" y2="34.90" stroke="#3a3a3a" stroke-width="1" />
<line x1="556.47" y1="36.70" x2="556.47" y2="34.90" stroke="#3a3a3a" stroke-width="1" />
<line x1="588.19" y1="36.70" x2="588.19" y2="34.90" stroke="#3a3a3a" stroke-width="1" />
<line x1="628.25" y1="36.70" x2="628.25" y2="34.90" stroke="#3a3a3a" stroke-width="1" />
<text x="500.10" y="30.20" font-size="12.5" text-anchor="middle" fill="#000" >90</text>
<text x="519.60" y="30.20" font-size="12.5" text-anchor="middle" fill="#000" >60</text>
<text x="542.96" y="30.20" font-size="12.5" text-anchor="middle" fill="#000" >30</text>
<text x="571.46" y="30.20" font-size="12.5" text-anchor="middle" fill="#000" >0</text>
<text x="606.98" y="30.20" font-size="12.5" text-anchor="middle" fill="#000" >-30</text>
<text x="652.51" y="30.20" font-size="12.5" text-anchor="middle" fill="#000" >-60</text>
<line x1="519.47" y1="194.50" x2="519.47" y2="197.50" stroke="#3a3a3a" stroke-width="1" />
<line x1="558.80" y1="194.50" x2="558.80" y2="197.50" stroke="#3a3a3a" stroke-width="1" />
<line x1="598.12" y1="194.50" x2="598.12" y2="197.50" stroke="#3a3a3a" stroke-width="1" />
<line x1="637.45" y1="194.50" x2="637.45" y2="197.50" stroke="#3a3a3a" stroke-width="1" />
<line x1="676.77" y1="194.50" x2="676.77" y2="197.50" stroke="#3a3a3a" stroke-width="1" />
<line x1="499.81" y1="194.50" x2="499.81" y2="196.30" stroke="#3a3a3a" stroke-width="1" />
<line x1="539.13" y1="194.50" x2="539.13" y2="196.30" stroke="#3a3a3a" stroke-width="1" />
<line x1="578.46" y1="194.50" x2="578.46" y2="196.30" stroke="#3a3a3a" stroke-width="1" />
<line x1="617.78" y1="194.50" x2="617.78" y2="196.30" stroke="#3a3a3a" stroke-width="1" />
<line x1="657.11" y1="194.50" x2="657.11" y2="196.30" stroke="#3a3a3a" stroke-width="1" />
<text x="519.47" y="210.40" font-size="12.5" text-anchor="middle" fill="#000" >3.0</text>
<text x="558.80" y="210.40" font-size="12.5" text-anchor="middle" fill="#000" >3.5</text>
<text x="598.12" y="210.40" font-size="12.5" text-anchor="middle" fill="#000" >4.0</text>
<text x="637.45" y="210.40" font-size="12.5" text-anchor="middle" fill="#000" >4.5</text>
<text x="676.77" y="210.40" font-size="12.5" text-anchor="middle" fill="#000" >5.0</text>
<line x1="500.10" y1="36.70" x2="496.80" y2="36.70" stroke="#3a3a3a" stroke-width="1" />
<line x1="500.10" y1="64.27" x2="498.50" y2="64.27" stroke="#3a3a3a" stroke-width="1" />
<line x1="500.10" y1="57.33" x2="498.50" y2="57.33" stroke="#3a3a3a" stroke-width="1" />
<line x1="500.10" y1="52.40" x2="498.50" y2="52.40" stroke="#3a3a3a" stroke-width="1" />
<line x1="500.10" y1="48.58" x2="498.50" y2="48.58" stroke="#3a3a3a" stroke-width="1" />
<line x1="500.10" y1="45.45" x2="498.50" y2="45.45" stroke="#3a3a3a" stroke-width="1" />
<line x1="500.10" y1="42.81" x2="498.50" y2="42.81" stroke="#3a3a3a" stroke-width="1" />
<line x1="500.10" y1="40.52" x2="498.50" y2="40.52" stroke="#3a3a3a" stroke-width="1" />
<line x1="500.10" y1="38.51" x2="498.50" y2="38.51" stroke="#3a3a3a" stroke-width="1" />
<line x1="500.10" y1="76.15" x2="496.80" y2="76.15" stroke="#3a3a3a" stroke-width="1" />
<line x1="500.10" y1="103.72" x2="498.50" y2="103.72" stroke="#3a3a3a" stroke-width="1" />
<line x1="500.10" y1="96.78" x2="498.50" y2="96.78" stroke="#3a3a3a" stroke-width="1" />
<line x1="500.10" y1="91.85" x2="498.50" y2="91.85" stroke="#3a3a3a" stroke-width="1" />
<line x1="500.10" y1="88.03" x2="498.50" y2="88.03" stroke="#3a3a3a" stroke-width="1" />
<line x1="500.10" y1="84.90" x2="498.50" y2="84.90" stroke="#3a3a3a" stroke-width="1" />
<line x1="500.10" y1="82.26" x2="498.50" y2="82.26" stroke="#3a3a3a" stroke-width="1" />
<line x1="500.10" y1="79.97" x2="498.50" y2="79.97" stroke="#3a3a3a" stroke-width="1" />
<line x1="500.10" y1="77.96" x2="498.50" y2="77.96" stroke="#3a3a3a" stroke-width="1" />
<line x1="500.10" y1="115.60" x2="496.80" y2="115.60" stroke="#3a3a3a" stroke-width="1" />
<line x1="500.10" y1="143.17" x2="498.50" y2="143.17" stroke="#3a3a3a" stroke-width="1" />
<line x1="500.10" y1="136.23" x2="498.50" y2="136.23" stroke="#3a3a3a" stroke-width="1" />
<line x1="500.10" y1="131.30" x2="498.50" y2="131.30" stroke="#3a3a3a" stroke-width="1" />
<line x1="500.10" y1="127.48" x2="498.50" y2="127.48" stroke="#3a3a3a" stroke-width="1" />
<line x1="500.10" y1="124.35" x2="498.50" y2="124.35" stroke="#3a3a3a" stroke-width="1" />
<line x1="500.10" y1="121.71" x2="498.50" y2="121.71" stroke="#3a3a3a" stroke-width="1" />
<line x1="500.10" y1="119.42" x2="498.50" y2="119.42" stroke="#3a3a3a" stroke-width="1" />
<line x1="500.10" y1="117.41" x2="498.50" y2="117.41" stroke="#3a3a3a" stroke-width="1" />
<line x1="500.10" y1="155.05" x2="496.80" y2="155.05" stroke="#3a3a3a" stroke-width="1" />
<line x1="500.10" y1="182.62" x2="498.50" y2="182.62" stroke="#3a3a3a" stroke-width="1" />
<line x1="500.10" y1="175.68" x2="498.50" y2="175.68" stroke="#3a3a3a" stroke-width="1" />
<line x1="500.10" y1="170.75" x2="498.50" y2="170.75" stroke="#3a3a3a" stroke-width="1" />
<line x1="500.10" y1="166.93" x2="498.50" y2="166.93" stroke="#3a3a3a" stroke-width="1" />
<line x1="500.10" y1="163.80" x2="498.50" y2="163.80" stroke="#3a3a3a" stroke-width="1" />
<line x1="500.10" y1="161.16" x2="498.50" y2="161.16" stroke="#3a3a3a" stroke-width="1" />
<line x1="500.10" y1="158.87" x2="498.50" y2="158.87" stroke="#3a3a3a" stroke-width="1" />
<line x1="500.10" y1="156.86" x2="498.50" y2="156.86" stroke="#3a3a3a" stroke-width="1" />
<line x1="500.10" y1="194.50" x2="496.80" y2="194.50" stroke="#3a3a3a" stroke-width="1" />
<text x="494.70" y="41.80" font-size="12.6" text-anchor="end" fill="#000">10<tspan font-size="9.4" dx="-0.4" dy="-5.0">-2</tspan></text>
<text x="494.70" y="81.25" font-size="12.6" text-anchor="end" fill="#000">10<tspan font-size="9.4" dx="-0.4" dy="-5.0">-3</tspan></text>
<text x="494.70" y="120.70" font-size="12.6" text-anchor="end" fill="#000">10<tspan font-size="9.4" dx="-0.4" dy="-5.0">-4</tspan></text>
<text x="494.70" y="160.15" font-size="12.6" text-anchor="end" fill="#000">10<tspan font-size="9.4" dx="-0.4" dy="-5.0">-5</tspan></text>
<text x="494.70" y="199.60" font-size="12.6" text-anchor="end" fill="#000">10<tspan font-size="9.4" dx="-0.4" dy="-5.0">-6</tspan></text>
<path d="M517.11,45.70 L661.37,171.90" fill="none" stroke="#f03030" stroke-width="1.1" stroke-dasharray="1 2.6"/>
<path d="M517.61,41.80 L662.37,168.20" fill="none" stroke="#3080d0" stroke-width="1.1" stroke-dasharray="1 2.6"/>
<circle cx="516.11" cy="44.20" r="2.9" fill="url(#g_cred)"/>
<circle cx="523.20" cy="50.10" r="2.9" fill="url(#g_cred)"/>
<circle cx="530.73" cy="56.00" r="2.9" fill="url(#g_cred)"/>
<circle cx="538.75" cy="62.60" r="2.9" fill="url(#g_cred)"/>
<circle cx="547.31" cy="69.60" r="2.9" fill="url(#g_cred)"/>
<circle cx="556.47" cy="77.30" r="2.9" fill="url(#g_cred)"/>
<circle cx="566.28" cy="86.30" r="2.9" fill="url(#g_cred)"/>
<circle cx="576.83" cy="95.30" r="2.9" fill="url(#g_cred)"/>
<circle cx="588.19" cy="104.50" r="2.9" fill="url(#g_cred)"/>
<circle cx="600.47" cy="115.90" r="2.9" fill="url(#g_cred)"/>
<circle cx="613.77" cy="129.30" r="2.9" fill="url(#g_cred)"/>
<circle cx="628.25" cy="142.20" r="2.9" fill="url(#g_cred)"/>
<circle cx="644.05" cy="156.00" r="2.9" fill="url(#g_cred)"/>
<circle cx="661.37" cy="171.90" r="2.9" fill="url(#g_cred)"/>
<circle cx="516.11" cy="41.30" r="2.9" fill="url(#g_cblue)"/>
<circle cx="523.20" cy="47.20" r="2.9" fill="url(#g_cblue)"/>
<circle cx="530.73" cy="53.00" r="2.9" fill="url(#g_cblue)"/>
<circle cx="538.75" cy="59.60" r="2.9" fill="url(#g_cblue)"/>
<circle cx="547.31" cy="67.00" r="2.9" fill="url(#g_cblue)"/>
<circle cx="556.47" cy="74.20" r="2.9" fill="url(#g_cblue)"/>
<circle cx="566.28" cy="83.00" r="2.9" fill="url(#g_cblue)"/>
<circle cx="576.83" cy="92.00" r="2.9" fill="url(#g_cblue)"/>
<circle cx="588.19" cy="101.50" r="2.9" fill="url(#g_cblue)"/>
<circle cx="600.47" cy="112.30" r="2.9" fill="url(#g_cblue)"/>
<circle cx="613.77" cy="125.10" r="2.9" fill="url(#g_cblue)"/>
<circle cx="628.25" cy="138.50" r="2.9" fill="url(#g_cblue)"/>
<circle cx="644.05" cy="152.60" r="2.9" fill="url(#g_cblue)"/>
<circle cx="661.37" cy="168.20" r="2.9" fill="url(#g_cblue)"/>
<path d="M546.95,37.70h1.1v1.0h-1.1zM546.95,39.30h1.1v1.0h-1.1zM546.95,40.90h1.1v1.0h-1.1zM546.95,42.50h1.1v1.0h-1.1zM546.95,44.10h1.1v1.0h-1.1zM546.95,45.70h1.1v1.0h-1.1zM546.95,47.30h1.1v1.0h-1.1zM546.95,48.90h1.1v1.0h-1.1zM546.95,50.50h1.1v1.0h-1.1zM546.95,52.10h1.1v1.0h-1.1zM546.95,53.70h1.1v1.0h-1.1zM546.95,55.30h1.1v1.0h-1.1zM546.95,56.90h1.1v1.0h-1.1zM546.95,58.50h1.1v1.0h-1.1zM546.95,60.10h1.1v1.0h-1.1zM546.95,61.70h1.1v1.0h-1.1zM546.95,63.30h1.1v1.0h-1.1zM546.95,64.90h1.1v1.0h-1.1zM546.95,66.50h1.1v1.0h-1.1zM546.95,68.10h1.1v1.0h-1.1zM546.95,69.70h1.1v1.0h-1.1zM546.95,71.30h1.1v1.0h-1.1zM546.95,72.90h1.1v1.0h-1.1zM546.95,74.50h1.1v1.0h-1.1zM546.95,76.10h1.1v1.0h-1.1zM546.95,77.70h1.1v1.0h-1.1zM546.95,79.30h1.1v1.0h-1.1zM546.95,80.90h1.1v1.0h-1.1zM546.95,82.50h1.1v1.0h-1.1zM546.95,84.10h1.1v1.0h-1.1zM546.95,85.70h1.1v1.0h-1.1zM546.95,87.30h1.1v1.0h-1.1zM546.95,88.90h1.1v1.0h-1.1zM546.95,90.50h1.1v1.0h-1.1zM546.95,92.10h1.1v1.0h-1.1zM546.95,93.70h1.1v1.0h-1.1zM546.95,95.30h1.1v1.0h-1.1zM546.95,96.90h1.1v1.0h-1.1zM546.95,98.50h1.1v1.0h-1.1zM546.95,100.10h1.1v1.0h-1.1zM546.95,101.70h1.1v1.0h-1.1zM546.95,103.30h1.1v1.0h-1.1zM546.95,104.90h1.1v1.0h-1.1zM546.95,106.50h1.1v1.0h-1.1zM546.95,108.10h1.1v1.0h-1.1zM546.95,109.70h1.1v1.0h-1.1zM546.95,111.30h1.1v1.0h-1.1zM546.95,112.90h1.1v1.0h-1.1zM546.95,114.50h1.1v1.0h-1.1zM546.95,116.10h1.1v1.0h-1.1zM546.95,117.70h1.1v1.0h-1.1zM546.95,119.30h1.1v1.0h-1.1zM546.95,120.90h1.1v1.0h-1.1zM546.95,122.50h1.1v1.0h-1.1zM546.95,124.10h1.1v1.0h-1.1zM546.95,125.70h1.1v1.0h-1.1zM546.95,127.30h1.1v1.0h-1.1zM546.95,128.90h1.1v1.0h-1.1zM546.95,130.50h1.1v1.0h-1.1zM546.95,132.10h1.1v1.0h-1.1zM546.95,133.70h1.1v1.0h-1.1zM546.95,135.30h1.1v1.0h-1.1zM546.95,136.90h1.1v1.0h-1.1zM546.95,138.50h1.1v1.0h-1.1zM546.95,140.10h1.1v1.0h-1.1zM546.95,141.70h1.1v1.0h-1.1zM546.95,143.30h1.1v1.0h-1.1zM546.95,144.90h1.1v1.0h-1.1zM546.95,146.50h1.1v1.0h-1.1zM546.95,148.10h1.1v1.0h-1.1zM546.95,149.70h1.1v1.0h-1.1zM546.95,151.30h1.1v1.0h-1.1zM546.95,152.90h1.1v1.0h-1.1zM546.95,154.50h1.1v1.0h-1.1zM546.95,156.10h1.1v1.0h-1.1zM546.95,157.70h1.1v1.0h-1.1zM546.95,159.30h1.1v1.0h-1.1zM546.95,160.90h1.1v1.0h-1.1zM546.95,162.50h1.1v1.0h-1.1zM546.95,164.10h1.1v1.0h-1.1zM546.95,165.70h1.1v1.0h-1.1zM546.95,167.30h1.1v1.0h-1.1zM546.95,168.90h1.1v1.0h-1.1zM546.95,170.50h1.1v1.0h-1.1zM546.95,172.10h1.1v1.0h-1.1zM546.95,173.70h1.1v1.0h-1.1zM546.95,175.30h1.1v1.0h-1.1zM546.95,176.90h1.1v1.0h-1.1zM546.95,178.50h1.1v1.0h-1.1zM546.95,180.10h1.1v1.0h-1.1zM546.95,181.70h1.1v1.0h-1.1zM546.95,183.30h1.1v1.0h-1.1zM546.95,184.90h1.1v1.0h-1.1zM546.95,186.50h1.1v1.0h-1.1zM546.95,188.10h1.1v1.0h-1.1zM546.95,189.70h1.1v1.0h-1.1zM546.95,191.30h1.1v1.0h-1.1zM546.95,192.90h1.1v1.0h-1.1z" fill="#9838f2"/>
<circle cx="629.30" cy="46.50" r="2.9" fill="url(#g_cred)"/>
<circle cx="629.30" cy="61.20" r="2.9" fill="url(#g_cblue)"/>
<text x="642.40" y="50.80" font-size="12.1" text-anchor="start" fill="#000" >YZr-Q</text>
<text x="642.40" y="65.50" font-size="12.1" text-anchor="start" fill="#000" >YZr-N</text>
<text x="570.20" y="15.80" font-size="14.3" text-anchor="start" fill="#000" ><tspan font-style="italic">T</tspan> (°C)</text>
<text x="548.90" y="224.80" font-size="14.3" text-anchor="start" fill="#000" >1000/<tspan font-style="italic">T</tspan> (K<tspan font-size="9" dy="-5">-1</tspan><tspan dy="5">)</tspan></text>
<text transform="translate(470.0,116.3) rotate(-90)" x="0" y="0" font-size="14.2" text-anchor="middle" fill="#000"><tspan font-style="italic">σ</tspan> (S cm<tspan font-size="9" dy="-5">-1</tspan><tspan dy="5">)</tspan></text>
<text x="556.70" y="188.90" font-size="14.5" text-anchor="start" fill="#8a1ff0" >25 °C</text>
<text x="456.20" y="19.70" font-size="28" text-anchor="start" fill="#000" stroke="#000" stroke-width="0.5">c</text>
<rect x="41.9" y="253.3" width="354.90" height="73.60" fill="none" stroke="#3a3a3a" stroke-width="1"/>
<line x1="67.40" y1="326.90" x2="67.40" y2="330.10" stroke="#3a3a3a" stroke-width="1" />
<text x="67.40" y="343.60" font-size="12.5" text-anchor="middle" fill="#000" >0.4</text>
<line x1="168.83" y1="326.90" x2="168.83" y2="330.10" stroke="#3a3a3a" stroke-width="1" />
<text x="168.83" y="343.60" font-size="12.5" text-anchor="middle" fill="#000" >0.5</text>
<line x1="270.26" y1="326.90" x2="270.26" y2="330.10" stroke="#3a3a3a" stroke-width="1" />
<text x="270.26" y="343.60" font-size="12.5" text-anchor="middle" fill="#000" >0.6</text>
<line x1="371.69" y1="326.90" x2="371.69" y2="330.10" stroke="#3a3a3a" stroke-width="1" />
<text x="371.69" y="343.60" font-size="12.5" text-anchor="middle" fill="#000" >0.7</text>
<line x1="118.11" y1="326.90" x2="118.11" y2="328.70" stroke="#3a3a3a" stroke-width="1" />
<line x1="219.55" y1="326.90" x2="219.55" y2="328.70" stroke="#3a3a3a" stroke-width="1" />
<line x1="320.98" y1="326.90" x2="320.98" y2="328.70" stroke="#3a3a3a" stroke-width="1" />
<line x1="41.90" y1="326.90" x2="38.40" y2="326.90" stroke="#3a3a3a" stroke-width="1" />
<text x="35.80" y="331.30" font-size="12.5" text-anchor="end" fill="#000" >0</text>
<line x1="41.90" y1="290.10" x2="38.40" y2="290.10" stroke="#3a3a3a" stroke-width="1" />
<text x="35.80" y="294.50" font-size="12.5" text-anchor="end" fill="#000" >1</text>
<line x1="41.90" y1="253.30" x2="38.40" y2="253.30" stroke="#3a3a3a" stroke-width="1" />
<text x="35.80" y="257.70" font-size="12.5" text-anchor="end" fill="#000" >2</text>
<line x1="41.90" y1="308.50" x2="40.10" y2="308.50" stroke="#3a3a3a" stroke-width="1" />
<line x1="41.90" y1="271.70" x2="40.10" y2="271.70" stroke="#3a3a3a" stroke-width="1" />
<polyline points="67.40,280.31 168.83,263.31 270.26,281.08 371.69,277.00" fill="none" stroke="#a24cc0" stroke-width="1.3"/>
<line x1="67.40" y1="276.21" x2="67.40" y2="284.41" stroke="#76388a" stroke-width="1" />
<line x1="65.40" y1="276.21" x2="69.40" y2="276.21" stroke="#76388a" stroke-width="1" />
<line x1="65.40" y1="284.41" x2="69.40" y2="284.41" stroke="#76388a" stroke-width="1" />
<circle cx="67.40" cy="280.31" r="2.1" fill="#6a2a7e"/>
<line x1="168.83" y1="259.71" x2="168.83" y2="266.91" stroke="#76388a" stroke-width="1" />
<line x1="166.83" y1="259.71" x2="170.83" y2="259.71" stroke="#76388a" stroke-width="1" />
<line x1="166.83" y1="266.91" x2="170.83" y2="266.91" stroke="#76388a" stroke-width="1" />
<circle cx="168.83" cy="263.31" r="2.1" fill="#6a2a7e"/>
<line x1="270.26" y1="277.08" x2="270.26" y2="285.08" stroke="#76388a" stroke-width="1" />
<line x1="268.26" y1="277.08" x2="272.26" y2="277.08" stroke="#76388a" stroke-width="1" />
<line x1="268.26" y1="285.08" x2="272.26" y2="285.08" stroke="#76388a" stroke-width="1" />
<circle cx="270.26" cy="281.08" r="2.1" fill="#6a2a7e"/>
<line x1="371.69" y1="272.50" x2="371.69" y2="281.50" stroke="#76388a" stroke-width="1" />
<line x1="369.69" y1="272.50" x2="373.69" y2="272.50" stroke="#76388a" stroke-width="1" />
<line x1="369.69" y1="281.50" x2="373.69" y2="281.50" stroke="#76388a" stroke-width="1" />
<circle cx="371.69" cy="277.00" r="2.1" fill="#6a2a7e"/>
<text transform="translate(23.0,290.5) rotate(-90)" font-size="14.2" text-anchor="middle" fill="#000"><tspan font-style="italic">σ</tspan> (mS cm<tspan font-size="9" dy="-5">-1</tspan><tspan dy="5">)</tspan></text>
<text x="155.0" y="356.9" font-size="13.2" fill="#000" textLength="114" lengthAdjust="spacingAndGlyphs"><tspan font-style="italic">x</tspan> in Li<tspan font-size="9.4" dy="3">2+<tspan font-style="italic">x</tspan></tspan><tspan dy="-3">Y</tspan><tspan font-size="9.4" dy="3" font-style="italic">x</tspan><tspan dy="-3">Zr</tspan><tspan font-size="9.4" dy="3">1-<tspan font-style="italic">x</tspan></tspan><tspan dy="-3">Cl</tspan><tspan font-size="9.4" dy="3">6</tspan></text>
<text x="2.40" y="251.70" font-size="27" text-anchor="start" fill="#000" stroke="#000" stroke-width="0.35">d</text>
<rect x="42.0" y="366.0" width="354.80" height="72.30" fill="none" stroke="#3a3a3a" stroke-width="1"/>
<line x1="67.40" y1="438.30" x2="67.40" y2="441.50" stroke="#3a3a3a" stroke-width="1" />
<text x="67.40" y="455.80" font-size="12.5" text-anchor="middle" fill="#000" >0</text>
<line x1="118.12" y1="438.30" x2="118.12" y2="441.50" stroke="#3a3a3a" stroke-width="1" />
<text x="118.12" y="455.80" font-size="12.5" text-anchor="middle" fill="#000" >2</text>
<line x1="168.84" y1="438.30" x2="168.84" y2="441.50" stroke="#3a3a3a" stroke-width="1" />
<text x="168.84" y="455.80" font-size="12.5" text-anchor="middle" fill="#000" >4</text>
<line x1="219.56" y1="438.30" x2="219.56" y2="441.50" stroke="#3a3a3a" stroke-width="1" />
<text x="219.56" y="455.80" font-size="12.5" text-anchor="middle" fill="#000" >6</text>
<line x1="270.28" y1="438.30" x2="270.28" y2="441.50" stroke="#3a3a3a" stroke-width="1" />
<text x="270.28" y="455.80" font-size="12.5" text-anchor="middle" fill="#000" >8</text>
<line x1="321.00" y1="438.30" x2="321.00" y2="441.50" stroke="#3a3a3a" stroke-width="1" />
<text x="321.00" y="455.80" font-size="12.5" text-anchor="middle" fill="#000" >10</text>
<line x1="371.72" y1="438.30" x2="371.72" y2="441.50" stroke="#3a3a3a" stroke-width="1" />
<text x="371.72" y="455.80" font-size="12.5" text-anchor="middle" fill="#000" >12</text>
<line x1="42.04" y1="438.30" x2="42.04" y2="440.10" stroke="#3a3a3a" stroke-width="1" />
<line x1="92.76" y1="438.30" x2="92.76" y2="440.10" stroke="#3a3a3a" stroke-width="1" />
<line x1="143.48" y1="438.30" x2="143.48" y2="440.10" stroke="#3a3a3a" stroke-width="1" />
<line x1="194.20" y1="438.30" x2="194.20" y2="440.10" stroke="#3a3a3a" stroke-width="1" />
<line x1="244.92" y1="438.30" x2="244.92" y2="440.10" stroke="#3a3a3a" stroke-width="1" />
<line x1="295.64" y1="438.30" x2="295.64" y2="440.10" stroke="#3a3a3a" stroke-width="1" />
<line x1="346.36" y1="438.30" x2="346.36" y2="440.10" stroke="#3a3a3a" stroke-width="1" />
<line x1="397.08" y1="438.30" x2="397.08" y2="440.10" stroke="#3a3a3a" stroke-width="1" />
<line x1="42.00" y1="438.30" x2="38.50" y2="438.30" stroke="#3a3a3a" stroke-width="1" />
<text x="35.80" y="442.70" font-size="12.5" text-anchor="end" fill="#000" >0</text>
<line x1="42.00" y1="402.15" x2="38.50" y2="402.15" stroke="#3a3a3a" stroke-width="1" />
<text x="35.80" y="406.55" font-size="12.5" text-anchor="end" fill="#000" >1</text>
<line x1="42.00" y1="366.00" x2="38.50" y2="366.00" stroke="#3a3a3a" stroke-width="1" />
<text x="35.80" y="370.40" font-size="12.5" text-anchor="end" fill="#000" >2</text>
<line x1="42.00" y1="420.23" x2="40.20" y2="420.23" stroke="#3a3a3a" stroke-width="1" />
<line x1="42.00" y1="384.07" x2="40.20" y2="384.07" stroke="#3a3a3a" stroke-width="1" />
<polyline points="80.08,418.89 92.76,392.32 118.12,374.50 371.72,389.79" fill="none" stroke="#3a80c8" stroke-width="1.4"/>
<line x1="80.08" y1="415.49" x2="80.08" y2="422.29" stroke="#22405e" stroke-width="1" />
<line x1="78.08" y1="415.49" x2="82.08" y2="415.49" stroke="#22405e" stroke-width="1" />
<line x1="78.08" y1="422.29" x2="82.08" y2="422.29" stroke="#22405e" stroke-width="1" />
<circle cx="80.08" cy="418.89" r="2.1" fill="#1c3a5a"/>
<line x1="92.76" y1="388.42" x2="92.76" y2="396.22" stroke="#22405e" stroke-width="1" />
<line x1="90.76" y1="388.42" x2="94.76" y2="388.42" stroke="#22405e" stroke-width="1" />
<line x1="90.76" y1="396.22" x2="94.76" y2="396.22" stroke="#22405e" stroke-width="1" />
<circle cx="92.76" cy="392.32" r="2.1" fill="#1c3a5a"/>
<line x1="118.12" y1="370.90" x2="118.12" y2="378.10" stroke="#22405e" stroke-width="1" />
<line x1="116.12" y1="370.90" x2="120.12" y2="370.90" stroke="#22405e" stroke-width="1" />
<line x1="116.12" y1="378.10" x2="120.12" y2="378.10" stroke="#22405e" stroke-width="1" />
<circle cx="118.12" cy="374.50" r="2.1" fill="#1c3a5a"/>
<line x1="371.72" y1="385.79" x2="371.72" y2="393.79" stroke="#22405e" stroke-width="1" />
<line x1="369.72" y1="385.79" x2="373.72" y2="385.79" stroke="#22405e" stroke-width="1" />
<line x1="369.72" y1="393.79" x2="373.72" y2="393.79" stroke="#22405e" stroke-width="1" />
<circle cx="371.72" cy="389.79" r="2.1" fill="#1c3a5a"/>
<text transform="translate(23.0,399.0) rotate(-90)" font-size="14.2" text-anchor="middle" fill="#000"><tspan font-style="italic">σ</tspan> (mS cm<tspan font-size="9" dy="-5">-1</tspan><tspan dy="5">)</tspan></text>
<text x="161.20" y="469.40" font-size="14.3" text-anchor="start" fill="#000" >Holding time (h)</text>
<g>
<defs>
<linearGradient id="phbg" x1="0" y1="0" x2="1" y2="1"><stop offset="0" stop-color="#aeb2b0"/><stop offset="0.5" stop-color="#bcc0be"/><stop offset="1" stop-color="#b2b6b4"/></linearGradient>
<linearGradient id="glass" x1="0" y1="0" x2="1" y2="0"><stop offset="0" stop-color="#5e6260"/><stop offset="0.14" stop-color="#9a9e9c"/><stop offset="0.3" stop-color="#bcc0be"/><stop offset="0.62" stop-color="#c4c8c6"/><stop offset="0.74" stop-color="#e4e8e8"/><stop offset="0.84" stop-color="#a4a8a6"/><stop offset="1" stop-color="#5a5e5c"/></linearGradient>
<linearGradient id="powder" x1="0" y1="0" x2="1" y2="0"><stop offset="0" stop-color="#6e6e66"/><stop offset="0.3" stop-color="#aaaaa0"/><stop offset="0.6" stop-color="#9c9e9a"/><stop offset="0.8" stop-color="#6a7c98"/><stop offset="1" stop-color="#5a5a54"/></linearGradient>
<filter id="phsh" x="-10%" y="-10%" width="130%" height="130%"><feGaussianBlur stdDeviation="1.2"/></filter>
<clipPath id="phclip"><rect x="107.9" y="385.7" width="46" height="47.6"/></clipPath>
</defs>
<rect x="109.4" y="387.4" width="46" height="47.6" fill="#000" opacity="0.35" filter="url(#phsh)"/>
<rect x="107.9" y="385.7" width="46" height="47.6" fill="url(#phbg)"/>
<g clip-path="url(#phclip)"><g transform="translate(121.2,416.2) rotate(27)">
<path d="M-5.6,-50 L-5.6,0 A5.6,5.6 0 0 0 5.6,0 L5.6,-50 Z" fill="url(#glass)" stroke="#6a6e6c" stroke-width="0.8"/>
<path d="M-5.1,-13.5 L-5.1,0 A5.1,5.1 0 0 0 5.1,0 L5.1,-13.5 Z" fill="url(#powder)"/>
<rect x="-5.4" y="-16" width="10.8" height="3.2" fill="#4c4c48" opacity="0.9"/>

</g></g>
</g>
<rect x="427.5" y="248.3" width="249.90" height="189.80" fill="none" stroke="#3a3a3a" stroke-width="1"/>
<line x1="427.50" y1="413.30" x2="677.40" y2="413.30" stroke="#222" stroke-width="1" />
<line x1="427.50" y1="438.10" x2="427.50" y2="442.10" stroke="#3a3a3a" stroke-width="1" />
<text x="427.50" y="454.60" font-size="12.5" text-anchor="middle" fill="#000" >10</text>
<line x1="458.74" y1="438.10" x2="458.74" y2="442.10" stroke="#3a3a3a" stroke-width="1" />
<text x="458.74" y="454.60" font-size="12.5" text-anchor="middle" fill="#000" >20</text>
<line x1="489.98" y1="438.10" x2="489.98" y2="442.10" stroke="#3a3a3a" stroke-width="1" />
<text x="489.98" y="454.60" font-size="12.5" text-anchor="middle" fill="#000" >30</text>
<line x1="521.21" y1="438.10" x2="521.21" y2="442.10" stroke="#3a3a3a" stroke-width="1" />
<text x="521.21" y="454.60" font-size="12.5" text-anchor="middle" fill="#000" >40</text>
<line x1="552.45" y1="438.10" x2="552.45" y2="442.10" stroke="#3a3a3a" stroke-width="1" />
<text x="552.45" y="454.60" font-size="12.5" text-anchor="middle" fill="#000" >50</text>
<line x1="583.69" y1="438.10" x2="583.69" y2="442.10" stroke="#3a3a3a" stroke-width="1" />
<text x="583.69" y="454.60" font-size="12.5" text-anchor="middle" fill="#000" >60</text>
<line x1="614.92" y1="438.10" x2="614.92" y2="442.10" stroke="#3a3a3a" stroke-width="1" />
<text x="614.92" y="454.60" font-size="12.5" text-anchor="middle" fill="#000" >70</text>
<line x1="646.16" y1="438.10" x2="646.16" y2="442.10" stroke="#3a3a3a" stroke-width="1" />
<text x="646.16" y="454.60" font-size="12.5" text-anchor="middle" fill="#000" >80</text>
<line x1="677.40" y1="438.10" x2="677.40" y2="442.10" stroke="#3a3a3a" stroke-width="1" />
<text x="677.40" y="454.60" font-size="12.5" text-anchor="middle" fill="#000" >90</text>
<line x1="443.12" y1="438.10" x2="443.12" y2="440.10" stroke="#3a3a3a" stroke-width="1" />
<line x1="474.36" y1="438.10" x2="474.36" y2="440.10" stroke="#3a3a3a" stroke-width="1" />
<line x1="505.59" y1="438.10" x2="505.59" y2="440.10" stroke="#3a3a3a" stroke-width="1" />
<line x1="536.83" y1="438.10" x2="536.83" y2="440.10" stroke="#3a3a3a" stroke-width="1" />
<line x1="568.07" y1="438.10" x2="568.07" y2="440.10" stroke="#3a3a3a" stroke-width="1" />
<line x1="599.31" y1="438.10" x2="599.31" y2="440.10" stroke="#3a3a3a" stroke-width="1" />
<line x1="630.54" y1="438.10" x2="630.54" y2="440.10" stroke="#3a3a3a" stroke-width="1" />
<line x1="661.78" y1="438.10" x2="661.78" y2="440.10" stroke="#3a3a3a" stroke-width="1" />
<path d="M427.80,298.16 L428.30,298.78 L428.80,298.69 L429.30,298.22 L429.80,298.42 L430.30,298.36 L430.80,298.53 L431.30,298.64 L431.80,298.00 L432.30,297.93 L432.80,298.64 L433.30,298.26 L433.80,298.54 L434.30,297.84 L434.80,298.23 L435.30,298.46 L435.80,298.00 L436.30,298.63 L436.80,298.58 L437.30,297.78 L437.80,297.76 L438.30,298.21 L438.80,298.55 L439.30,298.03 L439.80,297.87 L440.30,298.04 L440.80,297.67 L441.30,297.83 L441.80,298.01 L442.30,298.05 L442.80,297.80 L443.30,297.78 L443.80,297.75 L444.30,297.89 L444.80,297.75 L445.30,284.22 L445.60,275.50 L445.80,281.31 L446.30,295.85 L446.80,290.32 L446.90,289.20 L447.30,293.66 L447.80,292.00 L447.80,292.00 L448.30,296.01 L448.80,297.32 L449.30,297.47 L449.80,297.79 L450.30,297.74 L450.80,297.91 L451.30,297.40 L451.80,295.39 L452.30,289.48 L452.40,288.30 L452.80,293.03 L453.30,297.40 L453.80,297.40 L454.30,297.58 L454.80,297.23 L455.30,297.27 L455.80,296.74 L456.30,296.89 L456.80,297.00 L457.30,296.97 L457.80,296.28 L458.00,296.00 L458.30,296.42 L458.80,297.00 L459.30,297.00 L459.80,297.28 L460.30,297.45 L460.80,297.62 L461.30,297.97 L461.80,297.85 L462.30,297.84 L462.80,298.04 L463.30,297.73 L463.80,297.85 L464.30,298.55 L464.80,298.92 L465.30,298.67 L465.80,298.60 L466.30,298.37 L466.80,294.18 L467.00,292.50 L467.30,295.02 L467.80,298.96 L468.30,298.96 L468.80,299.68 L469.30,299.22 L469.80,299.58 L470.30,300.09 L470.80,299.80 L471.30,299.73 L471.80,299.59 L472.30,299.88 L472.80,300.28 L473.30,299.46 L473.80,300.19 L474.30,300.05 L474.80,299.66 L475.30,297.94 L475.40,297.60 L475.80,298.97 L476.30,300.05 L476.80,300.05 L477.30,300.12 L477.80,299.82 L478.30,300.33 L478.80,299.92 L479.30,298.15 L479.40,297.80 L479.80,299.21 L480.30,300.33 L480.80,300.30 L481.30,300.32 L481.80,300.53 L482.30,300.64 L482.80,300.67 L483.30,300.56 L483.80,300.21 L484.30,300.43 L484.80,300.42 L485.30,300.82 L485.80,301.10 L486.30,300.90 L486.80,300.86 L487.30,299.53 L487.50,299.00 L487.80,299.80 L488.30,300.90 L488.80,300.90 L489.30,299.71 L489.50,299.20 L489.80,299.97 L490.30,300.63 L490.80,301.03 L491.30,300.89 L491.80,300.79 L492.30,301.28 L492.80,301.06 L493.30,300.84 L493.80,293.96 L494.30,272.41 L494.40,268.10 L494.80,285.34 L495.30,301.12 L495.80,298.54 L496.10,296.50 L496.30,297.86 L496.80,301.25 L497.30,301.37 L497.80,301.03 L498.30,301.38 L498.80,301.44 L499.30,301.26 L499.80,301.21 L500.30,301.65 L500.80,300.77 L501.30,296.96 L501.40,296.20 L501.80,299.25 L502.30,301.65 L502.80,301.29 L503.30,301.31 L503.80,301.45 L504.30,302.00 L504.80,301.52 L505.30,302.03 L505.80,301.94 L506.30,301.85 L506.80,298.81 L507.00,297.60 L507.30,299.42 L507.80,301.94 L508.30,301.94 L508.80,301.78 L509.30,302.19 L509.80,301.99 L510.30,302.18 L510.80,301.98 L511.30,302.28 L511.80,301.79 L512.30,302.02 L512.80,302.63 L513.30,302.55 L513.80,302.04 L514.30,302.54 L514.80,302.05 L515.30,302.62 L515.80,302.45 L516.30,302.16 L516.80,302.02 L517.30,301.80 L517.80,302.59 L518.30,301.84 L518.80,302.54 L519.30,302.68 L519.80,302.33 L520.30,301.97 L520.80,302.60 L521.30,302.70 L521.80,302.47 L522.30,302.29 L522.80,302.18 L523.30,300.99 L523.80,291.64 L524.00,287.90 L524.30,293.51 L524.80,302.25 L525.30,302.04 L525.80,301.96 L526.30,302.47 L526.80,302.14 L527.30,302.33 L527.80,302.17 L528.30,302.35 L528.80,302.35 L529.30,300.69 L529.60,299.50 L529.80,300.30 L530.30,302.20 L530.80,302.35 L531.30,302.62 L531.80,302.22 L532.30,302.11 L532.80,300.52 L533.00,299.80 L533.30,300.88 L533.80,302.33 L534.30,300.52 L534.50,299.80 L534.80,300.89 L535.30,302.39 L535.80,302.38 L536.30,302.84 L536.80,302.17 L537.30,302.61 L537.80,302.04 L538.30,302.12 L538.80,302.79 L539.30,302.17 L539.80,302.66 L540.30,302.53 L540.80,302.45 L541.30,302.33 L541.80,298.88 L542.00,297.50 L542.30,299.58 L542.80,302.45 L543.30,302.45 L543.80,302.87 L544.30,302.82 L544.80,302.15 L545.30,302.52 L545.80,302.13 L546.30,302.07 L546.80,302.11 L547.30,302.82 L547.80,302.51 L548.30,302.51 L548.80,293.04 L549.10,287.00 L549.30,291.03 L549.80,301.10 L550.30,302.41 L550.80,302.59 L551.30,302.28 L551.80,302.16 L552.30,302.33 L552.80,302.89 L553.30,302.60 L553.80,302.93 L554.30,302.51 L554.80,302.36 L555.30,302.82 L555.80,302.86 L556.30,302.13 L556.80,302.73 L557.30,302.21 L557.80,302.24 L558.30,302.93 L558.80,302.18 L559.30,302.36 L559.80,302.60 L560.30,302.53 L560.80,301.27 L561.10,300.30 L561.30,300.94 L561.80,302.37 L562.30,302.60 L562.80,302.25 L563.30,301.06 L563.70,299.10 L563.80,299.59 L564.30,302.04 L564.80,302.61 L565.30,302.42 L565.80,302.39 L566.30,302.59 L566.80,302.25 L567.30,302.75 L567.80,302.20 L568.30,302.17 L568.80,303.05 L569.30,302.43 L569.80,302.70 L570.30,302.57 L570.80,302.45 L571.30,302.23 L571.80,302.99 L572.30,303.04 L572.80,303.04 L573.30,302.27 L573.80,302.37 L574.30,302.73 L574.80,303.06 L575.30,302.66 L575.80,302.80 L576.30,302.77 L576.80,302.41 L577.30,302.67 L577.80,302.46 L578.30,302.40 L578.80,302.26 L579.30,302.44 L579.80,303.07 L580.30,302.59 L580.80,301.69 L581.30,299.50 L581.30,299.50 L581.80,301.69 L582.30,302.54 L582.80,302.46 L583.30,302.48 L583.80,302.48 L584.30,302.95 L584.80,303.00 L585.30,302.47 L585.80,302.49 L586.30,302.68 L586.80,302.72 L587.30,302.73 L587.80,302.42 L588.30,302.22 L588.80,302.42 L589.30,302.26 L589.80,302.70 L590.30,302.27 L590.80,302.27 L591.30,302.77 L591.80,302.47 L592.30,302.92 L592.80,302.65 L593.30,302.98 L593.80,302.35 L594.30,302.66 L594.80,302.92 L595.30,302.28 L595.80,303.06 L596.30,302.37 L596.80,302.91 L597.30,303.10 L597.80,302.95 L598.30,302.50 L598.80,302.31 L599.30,302.68 L599.80,302.67 L600.30,302.48 L600.80,301.71 L601.20,300.50 L601.30,300.80 L601.80,302.32 L602.30,302.25 L602.80,302.51 L603.30,303.04 L603.80,302.95 L604.30,303.04 L604.80,302.98 L605.30,302.90 L605.80,302.85 L606.30,302.39 L606.80,302.62 L607.30,302.37 L607.80,302.87 L608.30,302.83 L608.80,302.46 L609.30,302.29 L609.80,303.10 L610.30,302.96 L610.80,302.73 L611.30,302.72 L611.80,303.00 L612.30,302.65 L612.80,302.60 L613.30,302.55 L613.80,302.47 L614.30,302.26 L614.80,302.82 L615.30,302.62 L615.80,302.76 L616.30,302.30 L616.80,302.57 L617.30,302.37 L617.80,302.36 L618.30,302.48 L618.80,303.00 L619.30,302.61 L619.80,302.61 L620.30,302.80 L620.80,302.46 L621.30,302.26 L621.80,302.73 L622.30,302.71 L622.80,302.84 L623.30,302.65 L623.80,302.88 L624.30,302.92 L624.80,302.47 L625.30,302.71 L625.80,302.69 L626.30,302.46 L626.80,302.63 L627.30,302.77 L627.80,303.08 L628.30,303.09 L628.80,302.51 L629.30,302.85 L629.80,302.31 L630.30,302.33 L630.80,302.73 L631.30,303.06 L631.80,302.42 L632.30,302.96 L632.80,303.07 L633.30,302.55 L633.80,302.90 L634.30,303.04 L634.80,302.61 L635.30,302.91 L635.80,302.94 L636.30,302.81 L636.80,303.05 L637.30,303.09 L637.80,303.15 L638.30,302.80 L638.80,302.44 L639.30,302.51 L639.80,302.48 L640.30,302.80 L640.80,302.97 L641.30,302.33 L641.80,302.90 L642.30,302.93 L642.80,302.60 L643.30,302.75 L643.80,302.44 L644.30,302.95 L644.80,302.33 L645.30,303.18 L645.80,302.75 L646.30,302.75 L646.80,302.07 L647.20,301.20 L647.30,301.42 L647.80,302.50 L648.30,302.42 L648.80,303.00 L649.30,303.06 L649.80,302.90 L650.30,302.93 L650.80,302.70 L651.30,303.14 L651.80,302.76 L652.30,302.65 L652.80,301.64 L653.00,301.20 L653.30,301.85 L653.80,302.46 L654.30,302.60 L654.80,302.42 L655.30,303.13 L655.80,303.18 L656.30,302.42 L656.80,302.85 L657.30,302.68 L657.80,302.42 L658.30,302.58 L658.80,302.54 L659.30,302.99 L659.80,302.32 L660.30,302.49 L660.80,302.72 L661.30,302.34 L661.80,302.89 L662.30,302.87 L662.80,303.08 L663.30,302.51 L663.80,302.58 L664.30,302.75 L664.80,301.86 L665.00,301.50 L665.30,302.04 L665.80,302.56 L666.30,302.78 L666.80,303.04 L667.30,303.06 L667.80,303.21 L668.30,302.82 L668.80,302.78 L669.30,303.11 L669.80,303.03 L670.30,302.85 L670.80,302.68 L671.30,302.59 L671.80,302.44 L672.30,303.07 L672.80,302.45 L673.30,303.01 L673.80,302.83 L674.30,303.21 L674.80,303.03 L675.30,303.22 L675.80,302.47 L676.30,302.80 L676.80,302.86" fill="none" stroke="#a04cb4" stroke-width="1.35" stroke-linejoin="round"/>
<path d="M427.80,327.89 L428.30,327.87 L428.80,327.05 L429.30,327.06 L429.80,327.72 L430.30,327.62 L430.80,327.54 L431.30,327.20 L431.80,327.45 L432.30,327.44 L432.80,327.40 L433.30,327.00 L433.80,327.23 L434.30,327.18 L434.80,327.46 L435.30,327.69 L435.80,327.63 L436.30,327.25 L436.80,327.15 L437.30,326.97 L437.80,326.75 L438.30,326.72 L438.80,327.10 L439.30,326.95 L439.80,326.99 L440.30,327.44 L440.80,327.09 L441.30,327.11 L441.80,326.80 L442.30,326.59 L442.80,326.85 L443.30,326.65 L443.80,326.87 L444.30,326.06 L444.80,320.30 L445.00,318.00 L445.30,321.45 L445.80,319.49 L445.90,318.40 L446.30,322.77 L446.80,326.65 L447.30,326.65 L447.80,319.55 L448.30,306.40 L448.30,306.40 L448.80,319.55 L449.30,326.48 L449.80,326.48 L450.30,324.14 L450.80,319.80 L450.80,319.80 L451.30,324.14 L451.80,326.38 L452.30,326.41 L452.80,326.34 L453.30,326.70 L453.80,326.28 L454.30,326.55 L454.80,326.08 L455.30,326.52 L455.80,326.51 L456.30,326.08 L456.80,326.14 L457.30,326.42 L457.80,326.21 L458.30,326.04 L458.80,324.97 L459.30,322.00 L459.30,322.00 L459.80,324.97 L460.30,326.13 L460.80,326.89 L461.30,326.40 L461.80,327.08 L462.30,326.63 L462.80,327.30 L463.30,327.17 L463.80,327.08 L464.30,327.18 L464.80,327.40 L465.30,326.20 L465.80,323.30 L465.80,323.30 L466.30,326.20 L466.80,327.45 L467.30,328.12 L467.80,327.93 L468.30,327.53 L468.80,328.29 L469.30,328.30 L469.80,328.56 L470.30,328.00 L470.80,328.55 L471.30,327.96 L471.80,328.53 L472.30,328.22 L472.80,328.21 L473.30,328.83 L473.80,328.16 L474.30,328.57 L474.80,328.90 L475.30,328.39 L475.80,328.39 L476.30,328.28 L476.80,326.38 L476.90,326.00 L477.30,327.52 L477.80,328.36 L478.30,328.69 L478.80,328.55 L479.30,329.03 L479.80,328.53 L480.30,328.94 L480.80,327.55 L481.00,327.00 L481.30,327.83 L481.80,328.60 L482.30,328.85 L482.80,329.16 L483.30,328.36 L483.80,326.50 L483.80,326.50 L484.30,328.36 L484.80,329.13 L485.30,328.85 L485.80,329.73 L486.30,329.01 L486.80,328.94 L487.30,329.25 L487.80,329.15 L488.30,327.77 L488.40,327.50 L488.80,328.60 L489.30,329.37 L489.80,329.13 L490.30,329.54 L490.80,329.86 L491.30,329.87 L491.80,330.04 L492.30,329.95 L492.80,330.07 L493.30,329.87 L493.80,329.79 L494.30,317.68 L494.60,309.90 L494.80,315.09 L495.30,328.05 L495.80,329.59 L496.30,329.93 L496.80,330.35 L497.30,329.71 L497.80,330.15 L498.30,330.01 L498.80,330.15 L499.30,329.85 L499.80,330.62 L500.30,330.02 L500.80,329.78 L501.30,327.46 L501.40,327.00 L501.80,328.85 L502.30,330.31 L502.80,330.08 L503.30,330.03 L503.80,330.05 L504.30,330.19 L504.80,330.17 L505.30,330.68 L505.80,330.60 L506.30,330.71 L506.80,330.71 L507.30,323.69 L507.60,319.20 L507.80,322.19 L508.30,329.67 L508.80,330.57 L509.30,330.91 L509.80,330.97 L510.30,331.16 L510.80,331.11 L511.30,330.74 L511.80,330.92 L512.30,331.02 L512.80,330.56 L513.30,330.59 L513.80,330.93 L514.30,330.66 L514.80,331.21 L515.30,330.78 L515.80,330.66 L516.30,330.73 L516.80,330.78 L517.30,330.77 L517.80,331.04 L518.30,330.99 L518.80,330.86 L519.30,331.16 L519.80,330.77 L520.30,331.40 L520.80,331.45 L521.30,331.24 L521.80,330.98 L522.30,331.05 L522.80,331.05 L523.30,330.48 L523.80,328.00 L523.90,327.50 L524.30,329.49 L524.80,330.77 L525.30,330.69 L525.80,331.33 L526.30,330.94 L526.80,331.08 L527.30,331.44 L527.80,331.17 L528.30,330.88 L528.80,331.51 L529.30,330.96 L529.80,330.64 L530.30,331.03 L530.80,329.37 L531.00,328.70 L531.30,329.70 L531.80,331.08 L532.30,331.08 L532.80,330.65 L533.30,331.05 L533.80,331.01 L534.30,331.08 L534.80,330.83 L535.30,331.18 L535.80,330.72 L536.30,330.91 L536.80,330.99 L537.30,331.50 L537.80,330.73 L538.30,331.34 L538.80,330.83 L539.30,331.18 L539.80,331.02 L540.30,331.08 L540.80,331.35 L541.30,331.03 L541.80,330.42 L542.30,325.33 L542.50,323.30 L542.80,326.35 L543.30,331.13 L543.80,331.13 L544.30,331.55 L544.80,331.31 L545.30,330.71 L545.80,331.28 L546.30,331.39 L546.80,331.35 L547.30,331.15 L547.80,331.02 L548.30,328.72 L548.80,324.20 L548.80,324.20 L549.30,328.72 L549.80,331.15 L550.30,331.14 L550.80,331.57 L551.30,331.44 L551.80,331.55 L552.30,331.47 L552.80,330.99 L553.30,330.93 L553.80,331.16 L554.30,330.96 L554.80,331.11 L555.30,331.34 L555.80,331.19 L556.30,330.84 L556.80,329.31 L556.90,329.00 L557.30,330.22 L557.80,331.06 L558.30,331.19 L558.80,330.88 L559.30,331.12 L559.80,330.81 L560.30,330.83 L560.80,331.56 L561.30,331.64 L561.80,331.33 L562.30,330.87 L562.80,330.69 L563.30,329.50 L563.30,329.50 L563.80,330.69 L564.30,331.20 L564.80,331.15 L565.30,331.23 L565.80,330.86 L566.30,331.24 L566.80,331.61 L567.30,331.44 L567.80,330.84 L568.30,331.22 L568.80,331.40 L569.30,330.99 L569.80,331.56 L570.30,331.17 L570.80,331.39 L571.30,331.12 L571.80,331.66 L572.30,331.46 L572.80,331.28 L573.30,330.89 L573.80,331.16 L574.30,330.79 L574.80,331.30 L575.30,331.56 L575.80,330.93 L576.30,331.22 L576.80,331.20 L577.30,331.13 L577.80,331.40 L578.30,331.61 L578.80,331.40 L579.30,331.19 L579.80,331.63 L580.30,331.06 L580.80,331.44 L581.30,331.36 L581.80,331.45 L582.30,331.54 L582.80,330.97 L583.30,331.33 L583.80,331.13 L584.30,331.37 L584.80,331.65 L585.30,331.34 L585.80,330.78 L586.30,331.19 L586.80,331.41 L587.30,331.57 L587.80,331.36 L588.30,331.51 L588.80,330.79 L589.30,331.20 L589.80,330.49 L590.00,330.20 L590.30,330.63 L590.80,331.23 L591.30,331.23 L591.80,330.87 L592.30,331.51 L592.80,331.47 L593.30,330.96 L593.80,331.45 L594.30,331.31 L594.80,330.95 L595.30,331.50 L595.80,330.90 L596.30,331.33 L596.80,331.17 L597.30,331.01 L597.80,331.29 L598.30,331.20 L598.80,330.97 L599.30,331.65 L599.80,330.85 L600.30,330.79 L600.80,331.22 L601.30,331.54 L601.80,331.38 L602.30,331.47 L602.80,331.22 L603.30,331.39 L603.80,331.09 L604.30,331.03 L604.80,331.24 L605.30,330.81 L605.80,330.86 L606.30,331.47 L606.80,330.95 L607.30,331.47 L607.80,331.50 L608.30,331.15 L608.80,331.40 L609.30,331.50 L609.80,331.57 L610.30,330.91 L610.80,330.94 L611.30,331.14 L611.80,331.21 L612.30,331.06 L612.80,330.80 L613.30,331.30 L613.80,331.67 L614.30,331.13 L614.80,331.28 L615.30,331.14 L615.80,331.20 L616.30,331.58 L616.80,331.08 L617.30,331.38 L617.80,331.23 L618.30,331.28 L618.80,331.62 L619.30,330.87 L619.80,331.54 L620.30,331.07 L620.80,331.38 L621.30,331.52 L621.80,331.39 L622.30,331.16 L622.80,331.56 L623.30,330.89 L623.80,331.37 L624.30,331.16 L624.80,331.28 L625.30,331.57 L625.80,331.52 L626.30,331.37 L626.80,331.08 L627.30,331.02 L627.80,331.22 L628.30,331.02 L628.80,331.06 L629.30,331.67 L629.80,330.91 L630.30,331.55 L630.80,331.15 L631.30,331.14 L631.80,331.10 L632.30,330.88 L632.80,331.22 L633.30,330.96 L633.80,331.21 L634.30,331.08 L634.80,331.62 L635.30,331.64 L635.80,331.21 L636.30,331.39 L636.80,331.65 L637.30,331.11 L637.80,330.91 L638.30,331.03 L638.80,330.99 L639.30,331.25 L639.80,330.57 L640.00,330.30 L640.30,330.71 L640.80,331.27 L641.30,331.03 L641.80,331.55 L642.30,331.39 L642.80,331.18 L643.30,331.56 L643.80,331.13 L644.30,331.61 L644.80,331.66 L645.30,331.27 L645.80,331.44 L646.30,331.68 L646.80,331.49 L647.30,331.50 L647.80,331.61 L648.30,331.67 L648.80,331.50 L649.30,331.71 L649.80,331.09 L650.30,331.39 L650.80,331.43 L651.30,331.16 L651.80,331.18 L652.30,330.99 L652.80,331.69 L653.30,331.15 L653.80,331.26 L654.30,331.63 L654.80,331.00 L655.30,331.70 L655.80,330.95 L656.30,330.86 L656.80,331.15 L657.30,331.16 L657.80,331.66 L658.30,331.63 L658.80,331.52 L659.30,331.23 L659.80,331.32 L660.30,331.05 L660.80,331.59 L661.30,331.19 L661.80,331.09 L662.30,331.41 L662.80,330.97 L663.30,331.12 L663.80,331.67 L664.30,330.92 L664.80,330.97 L665.30,331.02 L665.80,331.07 L666.30,331.22 L666.80,331.07 L667.30,331.15 L667.80,331.06 L668.30,331.06 L668.80,331.39 L669.30,331.15 L669.80,331.18 L670.30,331.53 L670.80,330.90 L671.30,330.97 L671.80,331.61 L672.30,331.23 L672.80,331.55 L673.30,330.97 L673.80,331.32 L674.30,331.61 L674.80,331.15 L675.30,331.54 L675.80,331.40 L676.30,331.20 L676.80,331.75" fill="none" stroke="#4cb448" stroke-width="1.35" stroke-linejoin="round"/>
<path d="M427.80,351.02 L428.30,351.26 L428.80,351.06 L429.30,351.23 L429.80,351.21 L430.30,350.67 L430.80,350.58 L431.30,351.00 L431.80,350.78 L432.30,349.61 L432.60,348.60 L432.80,349.27 L433.30,350.95 L433.80,351.00 L434.30,350.98 L434.80,351.00 L435.30,349.78 L435.60,348.90 L435.80,349.49 L436.30,350.96 L436.80,351.00 L437.30,351.22 L437.80,351.15 L438.30,350.61 L438.80,351.23 L439.30,351.08 L439.80,350.82 L440.30,350.58 L440.80,351.33 L441.30,350.98 L441.80,351.20 L442.30,351.34 L442.80,351.19 L443.30,351.35 L443.80,350.84 L444.30,350.81 L444.80,348.89 L445.30,343.23 L445.40,342.10 L445.80,346.62 L446.30,350.37 L446.80,350.37 L447.30,350.40 L447.80,350.54 L448.30,343.65 L448.70,336.20 L448.80,338.06 L449.30,347.38 L449.80,350.46 L450.30,350.31 L450.80,348.80 L451.30,344.30 L451.40,343.40 L451.80,347.00 L452.30,350.33 L452.80,350.33 L453.30,350.56 L453.80,350.46 L454.30,350.54 L454.80,350.21 L455.30,349.71 L455.80,350.30 L456.30,350.35 L456.80,350.26 L457.30,349.92 L457.80,350.01 L458.30,349.62 L458.80,350.20 L459.30,347.65 L459.60,345.80 L459.80,347.03 L460.30,349.98 L460.80,350.20 L461.30,351.07 L461.80,350.38 L462.30,351.15 L462.80,350.92 L463.30,350.81 L463.80,351.06 L464.30,351.62 L464.80,351.84 L465.30,351.21 L465.80,350.44 L466.30,347.10 L466.30,347.10 L466.80,350.44 L467.30,351.88 L467.80,352.59 L468.30,352.81 L468.80,352.50 L469.30,353.07 L469.80,352.58 L470.30,352.49 L470.80,353.02 L471.30,352.54 L471.80,352.73 L472.30,352.95 L472.80,353.17 L473.30,352.79 L473.80,352.73 L474.30,353.50 L474.80,353.04 L475.30,353.66 L475.80,353.36 L476.30,353.20 L476.80,351.66 L477.00,351.00 L477.30,351.99 L477.80,353.36 L478.30,353.36 L478.80,353.54 L479.30,353.63 L479.80,353.95 L480.30,353.60 L480.80,353.56 L481.30,353.86 L481.80,353.46 L482.30,353.55 L482.80,354.20 L483.30,353.82 L483.80,353.16 L484.30,351.50 L484.30,351.50 L484.80,353.16 L485.30,353.87 L485.80,353.54 L486.30,354.12 L486.80,354.17 L487.30,353.69 L487.80,354.20 L488.30,354.11 L488.80,351.03 L489.00,349.80 L489.30,351.65 L489.80,354.20 L490.30,354.20 L490.80,353.86 L491.30,353.92 L491.80,354.50 L492.30,354.79 L492.80,354.17 L493.30,354.39 L493.80,354.51 L494.30,350.25 L494.80,337.71 L494.90,335.20 L495.30,345.23 L495.80,354.44 L496.30,354.51 L496.80,354.43 L497.30,354.52 L497.80,354.90 L498.30,354.26 L498.80,354.77 L499.30,354.95 L499.80,354.59 L500.30,354.54 L500.80,354.88 L501.30,354.61 L501.80,353.09 L502.00,352.40 L502.30,353.44 L502.80,354.88 L503.30,354.59 L503.80,354.81 L504.30,354.85 L504.80,355.32 L505.30,355.00 L505.80,355.40 L506.30,354.80 L506.80,354.98 L507.30,355.21 L507.80,351.49 L508.30,344.60 L508.30,344.60 L508.80,351.49 L509.30,354.92 L509.80,355.21 L510.30,355.03 L510.80,355.61 L511.30,355.67 L511.80,355.10 L512.30,355.20 L512.80,355.69 L513.30,355.54 L513.80,355.70 L514.30,355.29 L514.80,355.10 L515.30,355.25 L515.80,355.71 L516.30,355.25 L516.80,355.32 L517.30,355.39 L517.80,355.40 L518.30,355.40 L518.80,355.86 L519.30,355.18 L519.80,355.05 L520.30,355.90 L520.80,355.85 L521.30,355.95 L521.80,355.46 L522.30,355.93 L522.80,355.92 L523.30,355.29 L523.80,355.47 L524.30,352.49 L524.50,351.30 L524.80,353.09 L525.30,355.56 L525.80,355.38 L526.30,355.44 L526.80,355.34 L527.30,355.20 L527.80,355.68 L528.30,355.41 L528.80,355.89 L529.30,355.21 L529.80,355.99 L530.30,355.80 L530.80,355.65 L531.30,355.62 L531.80,354.46 L532.00,354.00 L532.30,354.69 L532.80,355.22 L533.30,355.65 L533.80,355.38 L534.30,355.50 L534.80,355.83 L535.30,355.71 L535.80,355.62 L536.30,356.10 L536.80,355.81 L537.30,355.57 L537.80,355.50 L538.30,356.05 L538.80,355.71 L539.30,356.00 L539.80,355.61 L540.30,355.48 L540.80,355.79 L541.30,356.05 L541.80,355.48 L542.30,355.79 L542.80,355.68 L543.30,351.91 L543.50,350.40 L543.80,352.66 L544.30,355.36 L544.80,355.79 L545.30,356.14 L545.80,355.42 L546.30,355.62 L546.80,355.63 L547.30,355.87 L547.80,355.78 L548.30,355.83 L548.80,355.87 L549.30,353.64 L549.70,350.80 L549.80,351.51 L550.30,355.06 L550.80,355.55 L551.30,355.50 L551.80,355.91 L552.30,355.49 L552.80,354.50 L552.80,354.50 L553.30,355.49 L553.80,355.76 L554.30,355.76 L554.80,355.80 L555.30,356.07 L555.80,356.03 L556.30,355.83 L556.80,355.68 L557.30,355.81 L557.80,355.63 L558.30,356.03 L558.80,356.18 L559.30,355.88 L559.80,355.62 L560.30,355.71 L560.80,355.89 L561.30,356.10 L561.80,356.26 L562.30,355.90 L562.80,356.28 L563.30,356.01 L563.80,355.41 L564.30,354.00 L564.30,354.00 L564.80,355.41 L565.30,356.01 L565.80,355.94 L566.30,356.19 L566.80,355.98 L567.30,355.79 L567.80,356.05 L568.30,356.20 L568.80,355.64 L569.30,355.96 L569.80,355.96 L570.30,356.37 L570.80,356.42 L571.30,355.92 L571.80,356.39 L572.30,356.29 L572.80,355.82 L573.30,356.00 L573.80,355.70 L574.30,356.32 L574.80,356.18 L575.30,356.39 L575.80,356.30 L576.30,356.19 L576.80,356.25 L577.30,356.10 L577.80,355.69 L578.30,356.13 L578.80,355.60 L579.30,355.73 L579.80,356.30 L580.30,355.64 L580.80,355.69 L581.30,355.69 L581.80,356.40 L582.30,355.77 L582.80,355.63 L583.30,356.37 L583.80,355.72 L584.30,356.37 L584.80,356.22 L585.30,356.37 L585.80,356.47 L586.30,356.14 L586.80,356.34 L587.30,355.65 L587.80,356.31 L588.30,356.08 L588.80,356.27 L589.30,355.72 L589.80,356.30 L590.30,356.47 L590.80,355.68 L591.30,355.92 L591.80,356.14 L592.30,356.38 L592.80,355.85 L593.30,355.80 L593.80,355.86 L594.30,356.19 L594.80,356.32 L595.30,355.99 L595.80,355.97 L596.30,356.00 L596.80,355.96 L597.30,356.02 L597.80,355.72 L598.30,356.10 L598.80,356.10 L599.30,356.02 L599.80,355.31 L600.00,355.00 L600.30,355.46 L600.80,356.10 L601.30,356.10 L601.80,356.26 L602.30,356.12 L602.80,356.09 L603.30,356.24 L603.80,356.47 L604.30,355.80 L604.80,355.75 L605.30,356.34 L605.80,356.49 L606.30,356.13 L606.80,356.07 L607.30,356.32 L607.80,355.84 L608.30,355.91 L608.80,355.85 L609.30,356.20 L609.80,355.96 L610.30,355.89 L610.80,356.30 L611.30,356.54 L611.80,355.95 L612.30,356.32 L612.80,356.06 L613.30,356.45 L613.80,356.21 L614.30,355.93 L614.80,355.89 L615.30,355.71 L615.80,356.12 L616.30,356.04 L616.80,355.85 L617.30,356.02 L617.80,355.99 L618.30,356.40 L618.80,355.83 L619.30,356.59 L619.80,356.13 L620.30,356.24 L620.80,356.13 L621.30,356.46 L621.80,356.45 L622.30,356.21 L622.80,356.14 L623.30,356.36 L623.80,356.48 L624.30,356.07 L624.80,356.37 L625.30,356.58 L625.80,356.14 L626.30,355.93 L626.80,355.93 L627.30,356.37 L627.80,356.33 L628.30,356.59 L628.80,356.49 L629.30,355.94 L629.80,355.90 L630.30,355.96 L630.80,355.90 L631.30,356.37 L631.80,356.51 L632.30,356.54 L632.80,355.96 L633.30,356.51 L633.80,356.02 L634.30,356.12 L634.80,356.40 L635.30,355.82 L635.80,355.83 L636.30,356.49 L636.80,356.01 L637.30,356.07 L637.80,356.27 L638.30,356.36 L638.80,355.76 L639.30,356.05 L639.80,355.48 L640.00,355.20 L640.30,355.62 L640.80,355.94 L641.30,356.20 L641.80,356.62 L642.30,356.11 L642.80,356.25 L643.30,355.87 L643.80,356.01 L644.30,356.36 L644.80,355.87 L645.30,356.57 L645.80,356.59 L646.30,355.86 L646.80,356.62 L647.30,356.11 L647.80,356.47 L648.30,356.46 L648.80,356.04 L649.30,356.39 L649.80,356.37 L650.30,356.51 L650.80,356.02 L651.30,356.46 L651.80,356.65 L652.30,356.39 L652.80,356.27 L653.30,355.89 L653.80,356.23 L654.30,356.11 L654.80,356.44 L655.30,356.40 L655.80,356.30 L656.30,355.96 L656.80,356.38 L657.30,356.37 L657.80,355.96 L658.30,356.60 L658.80,356.39 L659.30,355.91 L659.80,356.64 L660.30,355.93 L660.80,356.10 L661.30,356.46 L661.80,356.35 L662.30,356.31 L662.80,356.39 L663.30,356.22 L663.80,356.10 L664.30,355.97 L664.80,355.88 L665.30,356.46 L665.80,356.50 L666.30,356.31 L666.80,356.49 L667.30,356.15 L667.80,356.06 L668.30,356.17 L668.80,356.61 L669.30,355.87 L669.80,356.28 L670.30,356.05 L670.80,356.52 L671.30,356.15 L671.80,356.13 L672.30,356.20 L672.80,356.32 L673.30,356.53 L673.80,356.16 L674.30,356.60 L674.80,355.94 L675.30,356.09 L675.80,355.93 L676.30,355.95 L676.80,356.55" fill="none" stroke="#3a7cc0" stroke-width="1.35" stroke-linejoin="round"/>
<path d="M427.80,376.12 L428.30,375.96 L428.80,376.18 L429.30,375.93 L429.80,375.81 L430.30,376.07 L430.80,376.49 L431.30,376.10 L431.80,376.10 L432.30,374.65 L432.60,373.60 L432.80,374.30 L433.30,375.90 L433.80,375.81 L434.30,375.75 L434.80,375.84 L435.30,374.82 L435.60,373.90 L435.80,374.52 L436.30,376.05 L436.80,376.10 L437.30,375.81 L437.80,375.90 L438.30,376.18 L438.80,376.27 L439.30,376.37 L439.80,376.39 L440.30,375.67 L440.80,376.13 L441.30,376.18 L441.80,376.02 L442.30,375.72 L442.80,375.98 L443.30,375.62 L443.80,376.36 L444.30,375.90 L444.80,374.16 L445.30,369.03 L445.40,368.00 L445.80,372.11 L446.30,375.90 L446.80,375.90 L447.30,375.78 L447.80,374.34 L448.30,364.02 L448.50,359.90 L448.80,366.09 L449.30,375.69 L449.80,375.42 L450.30,375.53 L450.80,372.56 L451.20,369.20 L451.30,370.04 L451.80,374.24 L452.30,375.67 L452.80,375.41 L453.30,375.62 L453.80,375.54 L454.30,375.41 L454.80,375.98 L455.30,375.23 L455.80,375.41 L456.30,375.20 L456.80,375.57 L457.30,375.23 L457.80,375.28 L458.30,375.68 L458.80,375.40 L459.30,373.11 L459.50,372.10 L459.80,373.61 L460.30,375.50 L460.80,375.57 L461.30,375.82 L461.80,376.40 L462.30,376.37 L462.80,376.13 L463.30,376.32 L463.80,376.28 L464.30,376.63 L464.80,376.36 L465.30,377.03 L465.80,374.87 L466.10,373.30 L466.30,374.34 L466.80,376.95 L467.30,377.03 L467.80,376.94 L468.30,377.29 L468.80,378.00 L469.30,377.93 L469.80,377.70 L470.30,378.28 L470.80,378.04 L471.30,378.25 L471.80,377.81 L472.30,377.76 L472.80,378.02 L473.30,377.78 L473.80,378.03 L474.30,378.59 L474.80,378.06 L475.30,377.80 L475.80,377.87 L476.30,378.01 L476.80,377.55 L477.20,376.50 L477.30,376.76 L477.80,378.07 L478.30,378.09 L478.80,378.92 L479.30,378.45 L479.80,378.29 L480.30,378.20 L480.80,378.23 L481.30,378.36 L481.80,378.86 L482.30,378.42 L482.80,378.35 L483.30,377.15 L483.50,376.50 L483.80,377.47 L484.30,378.82 L484.80,378.57 L485.30,378.97 L485.80,379.22 L486.30,378.93 L486.80,379.49 L487.30,379.06 L487.80,378.88 L488.30,379.07 L488.80,376.46 L489.00,375.40 L489.30,376.99 L489.80,378.99 L490.30,379.20 L490.80,379.54 L491.30,379.26 L491.80,378.85 L492.30,379.07 L492.80,379.07 L493.30,379.05 L493.80,379.08 L494.30,376.38 L494.80,367.65 L494.90,365.90 L495.30,372.89 L495.80,379.35 L496.30,379.35 L496.80,379.84 L497.30,379.33 L497.80,379.79 L498.30,379.58 L498.80,379.72 L499.30,379.69 L499.80,379.48 L500.30,379.13 L500.80,379.25 L501.30,379.48 L501.80,377.57 L502.00,376.80 L502.30,377.95 L502.80,379.41 L503.30,379.54 L503.80,379.86 L504.30,379.73 L504.80,379.90 L505.30,379.65 L505.80,379.78 L506.30,379.82 L506.80,379.46 L507.30,379.70 L507.80,376.90 L508.30,371.70 L508.30,371.70 L508.80,376.90 L509.30,379.70 L509.80,379.70 L510.30,379.35 L510.80,380.13 L511.30,379.45 L511.80,380.22 L512.30,379.95 L512.80,379.41 L513.30,379.51 L513.80,379.93 L514.30,379.88 L514.80,380.04 L515.30,380.21 L515.80,379.57 L516.30,379.38 L516.80,380.21 L517.30,379.39 L517.80,380.18 L518.30,379.49 L518.80,380.12 L519.30,380.10 L519.80,380.19 L520.30,379.90 L520.80,380.20 L521.30,379.59 L521.80,380.02 L522.30,379.71 L522.80,380.22 L523.30,379.88 L523.80,379.83 L524.30,378.17 L524.50,377.50 L524.80,378.50 L525.30,379.46 L525.80,379.88 L526.30,379.88 L526.80,380.22 L527.30,379.99 L527.80,379.57 L528.30,379.78 L528.80,380.15 L529.30,379.93 L529.80,379.47 L530.30,379.92 L530.80,379.92 L531.30,379.34 L531.70,378.60 L531.80,378.79 L532.30,379.71 L532.80,379.92 L533.30,379.76 L533.80,379.70 L534.30,379.93 L534.80,380.36 L535.30,379.58 L535.80,379.60 L536.30,380.06 L536.80,380.30 L537.30,379.97 L537.80,379.90 L538.30,380.29 L538.80,380.22 L539.30,379.58 L539.80,380.32 L540.30,379.70 L540.80,379.80 L541.30,380.29 L541.80,379.92 L542.30,380.00 L542.80,379.69 L543.30,376.69 L543.50,375.40 L543.80,377.33 L544.30,379.69 L544.80,380.00 L545.30,379.86 L545.80,380.05 L546.30,380.38 L546.80,380.21 L547.30,379.58 L547.80,379.85 L548.30,380.04 L548.80,380.02 L549.30,378.26 L549.70,376.00 L549.80,376.56 L550.30,379.39 L550.80,379.81 L551.30,380.36 L551.80,379.92 L552.30,380.29 L552.80,380.49 L553.30,380.17 L553.80,380.22 L554.30,380.16 L554.80,379.90 L555.30,380.44 L555.80,380.04 L556.30,380.45 L556.80,379.91 L557.30,380.41 L557.80,380.34 L558.30,380.19 L558.80,380.04 L559.30,379.77 L559.80,380.34 L560.30,379.98 L560.80,380.25 L561.30,379.77 L561.80,379.73 L562.30,379.78 L562.80,380.38 L563.30,379.82 L563.80,379.47 L564.30,378.00 L564.30,378.00 L564.80,379.47 L565.30,379.97 L565.80,380.22 L566.30,379.74 L566.80,380.02 L567.30,380.50 L567.80,379.82 L568.30,380.25 L568.80,379.96 L569.30,379.94 L569.80,379.69 L570.30,379.69 L570.80,380.52 L571.30,380.42 L571.80,380.39 L572.30,380.40 L572.80,380.53 L573.30,379.82 L573.80,380.20 L574.30,380.12 L574.80,380.19 L575.30,380.52 L575.80,380.36 L576.30,380.55 L576.80,379.78 L577.30,380.27 L577.80,380.29 L578.30,380.35 L578.80,380.24 L579.30,380.43 L579.80,379.96 L580.30,380.52 L580.80,380.05 L581.30,380.23 L581.80,380.49 L582.30,380.32 L582.80,379.97 L583.30,379.90 L583.80,379.98 L584.30,380.26 L584.80,380.59 L585.30,380.50 L585.80,380.05 L586.30,380.06 L586.80,380.43 L587.30,379.95 L587.80,380.07 L588.30,379.71 L588.80,379.86 L589.30,380.19 L589.80,380.32 L590.30,380.25 L590.80,380.03 L591.30,380.56 L591.80,380.26 L592.30,379.85 L592.80,379.77 L593.30,380.58 L593.80,380.60 L594.30,380.54 L594.80,380.25 L595.30,379.99 L595.80,379.79 L596.30,379.94 L596.80,379.91 L597.30,380.55 L597.80,380.52 L598.30,380.42 L598.80,379.85 L599.30,379.93 L599.80,379.33 L600.00,379.00 L600.30,379.49 L600.80,379.87 L601.30,380.17 L601.80,380.33 L602.30,380.21 L602.80,380.59 L603.30,379.96 L603.80,380.20 L604.30,379.87 L604.80,379.81 L605.30,379.76 L605.80,380.01 L606.30,379.84 L606.80,379.78 L607.30,380.62 L607.80,379.99 L608.30,380.53 L608.80,380.36 L609.30,380.39 L609.80,380.32 L610.30,380.59 L610.80,380.53 L611.30,380.38 L611.80,380.24 L612.30,380.36 L612.80,380.39 L613.30,380.24 L613.80,380.19 L614.30,379.88 L614.80,380.50 L615.30,380.18 L615.80,379.81 L616.30,379.90 L616.80,380.53 L617.30,379.98 L617.80,380.10 L618.30,380.36 L618.80,380.53 L619.30,380.05 L619.80,380.10 L620.30,380.13 L620.80,379.78 L621.30,380.54 L621.80,379.77 L622.30,380.62 L622.80,379.89 L623.30,379.90 L623.80,380.52 L624.30,380.50 L624.80,379.97 L625.30,380.26 L625.80,380.19 L626.30,380.41 L626.80,379.93 L627.30,380.51 L627.80,380.66 L628.30,380.40 L628.80,380.60 L629.30,380.61 L629.80,380.11 L630.30,380.53 L630.80,380.52 L631.30,380.30 L631.80,379.87 L632.30,380.33 L632.80,380.59 L633.30,380.05 L633.80,380.36 L634.30,380.58 L634.80,380.32 L635.30,379.81 L635.80,380.35 L636.30,380.01 L636.80,380.55 L637.30,380.38 L637.80,380.06 L638.30,380.59 L638.80,380.24 L639.30,380.09 L639.80,379.49 L640.00,379.20 L640.30,379.63 L640.80,380.24 L641.30,380.24 L641.80,380.38 L642.30,380.42 L642.80,380.33 L643.30,380.27 L643.80,380.68 L644.30,380.11 L644.80,379.87 L645.30,380.44 L645.80,380.24 L646.30,380.29 L646.80,380.34 L647.30,380.02 L647.80,379.98 L648.30,379.86 L648.80,380.50 L649.30,380.62 L649.80,380.43 L650.30,379.91 L650.80,380.68 L651.30,380.55 L651.80,380.26 L652.30,379.81 L652.80,380.57 L653.30,380.37 L653.80,380.37 L654.30,379.83 L654.80,380.47 L655.30,379.84 L655.80,380.24 L656.30,379.94 L656.80,380.14 L657.30,380.62 L657.80,380.49 L658.30,380.55 L658.80,380.09 L659.30,380.17 L659.80,380.36 L660.30,379.85 L660.80,380.19 L661.30,380.70 L661.80,380.50 L662.30,380.60 L662.80,380.09 L663.30,380.45 L663.80,380.54 L664.30,380.46 L664.80,380.22 L665.30,379.99 L665.80,379.85 L666.30,380.63 L666.80,380.67 L667.30,380.08 L667.80,380.51 L668.30,380.20 L668.80,380.40 L669.30,380.59 L669.80,380.13 L670.30,380.40 L670.80,380.07 L671.30,380.30 L671.80,379.87 L672.30,380.08 L672.80,380.10 L673.30,380.67 L673.80,379.96 L674.30,380.53 L674.80,379.92 L675.30,380.73 L675.80,380.00 L676.30,379.93 L676.80,380.04" fill="none" stroke="#e0242a" stroke-width="1.35" stroke-linejoin="round"/>
<rect x="423.97" y="409.00" width="1.45" height="4.30" fill="#d2b044"/>
<rect x="441.27" y="409.00" width="1.45" height="4.30" fill="#d2b044"/>
<rect x="444.97" y="402.90" width="1.45" height="10.40" fill="#d2b044"/>
<rect x="449.38" y="405.30" width="1.45" height="8.00" fill="#d2b044"/>
<rect x="452.77" y="409.00" width="1.45" height="4.30" fill="#d2b044"/>
<rect x="463.27" y="408.40" width="1.45" height="4.90" fill="#d2b044"/>
<rect x="468.88" y="407.30" width="1.45" height="6.00" fill="#d2b044"/>
<rect x="470.07" y="408.10" width="1.45" height="5.20" fill="#d2b044"/>
<rect x="471.57" y="409.00" width="1.45" height="4.30" fill="#d2b044"/>
<rect x="481.77" y="409.00" width="1.45" height="4.30" fill="#d2b044"/>
<rect x="484.47" y="407.60" width="1.45" height="5.70" fill="#d2b044"/>
<rect x="488.17" y="408.10" width="1.45" height="5.20" fill="#d2b044"/>
<rect x="492.27" y="409.00" width="1.45" height="4.30" fill="#d2b044"/>
<rect x="493.47" y="402.00" width="1.45" height="11.30" fill="#d2b044"/>
<rect x="495.17" y="407.60" width="1.45" height="5.70" fill="#d2b044"/>
<rect x="498.67" y="409.00" width="1.45" height="4.30" fill="#d2b044"/>
<rect x="500.57" y="407.00" width="1.45" height="6.30" fill="#d2b044"/>
<rect x="505.07" y="409.00" width="1.45" height="4.30" fill="#d2b044"/>
<rect x="509.27" y="408.00" width="1.45" height="5.30" fill="#d2b044"/>
<rect x="511.27" y="409.30" width="1.45" height="4.00" fill="#d2b044"/>
<rect x="516.27" y="409.50" width="1.45" height="3.80" fill="#d2b044"/>
<rect x="520.88" y="407.50" width="1.45" height="5.80" fill="#d2b044"/>
<rect x="522.27" y="406.00" width="1.45" height="7.30" fill="#d2b044"/>
<rect x="523.48" y="405.10" width="1.45" height="8.20" fill="#d2b044"/>
<rect x="547.57" y="405.00" width="1.45" height="8.30" fill="#d2b044"/>
<rect x="526.27" y="408.63" width="1.45" height="4.67" fill="#d2b044"/>
<rect x="527.68" y="408.69" width="1.45" height="4.61" fill="#d2b044"/>
<rect x="528.91" y="408.69" width="1.45" height="4.61" fill="#d2b044"/>
<rect x="530.15" y="409.19" width="1.45" height="4.11" fill="#d2b044"/>
<rect x="531.22" y="408.33" width="1.45" height="4.97" fill="#d2b044"/>
<rect x="532.50" y="408.12" width="1.45" height="5.18" fill="#d2b044"/>
<rect x="533.93" y="408.56" width="1.45" height="4.74" fill="#d2b044"/>
<rect x="534.92" y="408.67" width="1.45" height="4.63" fill="#d2b044"/>
<rect x="535.85" y="409.01" width="1.45" height="4.29" fill="#d2b044"/>
<rect x="536.77" y="408.77" width="1.45" height="4.53" fill="#d2b044"/>
<rect x="538.13" y="408.53" width="1.45" height="4.77" fill="#d2b044"/>
<rect x="539.31" y="408.75" width="1.45" height="4.55" fill="#d2b044"/>
<rect x="541.81" y="408.45" width="1.45" height="4.85" fill="#d2b044"/>
<rect x="542.88" y="408.95" width="1.45" height="4.35" fill="#d2b044"/>
<rect x="543.82" y="408.82" width="1.45" height="4.48" fill="#d2b044"/>
<rect x="545.18" y="408.15" width="1.45" height="5.15" fill="#d2b044"/>
<rect x="546.55" y="409.05" width="1.45" height="4.25" fill="#d2b044"/>
<rect x="550.23" y="408.54" width="1.45" height="4.76" fill="#d2b044"/>
<rect x="551.56" y="409.20" width="1.45" height="4.10" fill="#d2b044"/>
<rect x="553.96" y="409.00" width="1.45" height="4.30" fill="#d2b044"/>
<rect x="554.91" y="408.34" width="1.45" height="4.96" fill="#d2b044"/>
<rect x="555.91" y="408.76" width="1.45" height="4.54" fill="#d2b044"/>
<rect x="556.91" y="409.14" width="1.45" height="4.16" fill="#d2b044"/>
<rect x="558.17" y="408.80" width="1.45" height="4.50" fill="#d2b044"/>
<rect x="559.19" y="408.13" width="1.45" height="5.17" fill="#d2b044"/>
<rect x="560.53" y="408.24" width="1.45" height="5.06" fill="#d2b044"/>
<rect x="561.54" y="408.27" width="1.45" height="5.03" fill="#d2b044"/>
<rect x="562.80" y="408.11" width="1.45" height="5.19" fill="#d2b044"/>
<rect x="563.81" y="408.37" width="1.45" height="4.93" fill="#d2b044"/>
<rect x="564.89" y="409.21" width="1.45" height="4.09" fill="#d2b044"/>
<rect x="565.84" y="409.01" width="1.45" height="4.29" fill="#d2b044"/>
<rect x="567.07" y="408.76" width="1.45" height="4.54" fill="#d2b044"/>
<rect x="568.50" y="408.61" width="1.45" height="4.69" fill="#d2b044"/>
<rect x="569.88" y="409.12" width="1.45" height="4.18" fill="#d2b044"/>
<rect x="571.28" y="409.00" width="1.45" height="4.30" fill="#d2b044"/>
<rect x="572.28" y="408.17" width="1.45" height="5.13" fill="#d2b044"/>
<rect x="574.68" y="408.79" width="1.45" height="4.51" fill="#d2b044"/>
<rect x="575.63" y="408.14" width="1.45" height="5.16" fill="#d2b044"/>
<rect x="576.66" y="408.99" width="1.45" height="4.31" fill="#d2b044"/>
<rect x="578.02" y="408.95" width="1.45" height="4.35" fill="#d2b044"/>
<rect x="579.01" y="409.22" width="1.45" height="4.08" fill="#d2b044"/>
<rect x="580.04" y="408.28" width="1.45" height="5.02" fill="#d2b044"/>
<rect x="581.28" y="408.20" width="1.45" height="5.10" fill="#d2b044"/>
<rect x="582.29" y="408.98" width="1.45" height="4.32" fill="#d2b044"/>
<rect x="583.43" y="409.09" width="1.45" height="4.21" fill="#d2b044"/>
<rect x="584.54" y="409.14" width="1.45" height="4.16" fill="#d2b044"/>
<rect x="585.64" y="408.12" width="1.45" height="5.18" fill="#d2b044"/>
<rect x="586.90" y="408.60" width="1.45" height="4.70" fill="#d2b044"/>
<rect x="587.87" y="409.28" width="1.45" height="4.02" fill="#d2b044"/>
<rect x="589.28" y="408.14" width="1.45" height="5.16" fill="#d2b044"/>
<rect x="590.19" y="408.72" width="1.45" height="4.58" fill="#d2b044"/>
<rect x="591.49" y="408.10" width="1.45" height="5.20" fill="#d2b044"/>
<rect x="592.43" y="408.42" width="1.45" height="4.88" fill="#d2b044"/>
<rect x="593.83" y="408.46" width="1.45" height="4.84" fill="#d2b044"/>
<rect x="596.26" y="408.22" width="1.45" height="5.08" fill="#d2b044"/>
<rect x="597.63" y="408.35" width="1.45" height="4.95" fill="#d2b044"/>
<rect x="599.01" y="408.55" width="1.45" height="4.75" fill="#d2b044"/>
<rect x="600.12" y="408.57" width="1.45" height="4.73" fill="#d2b044"/>
<rect x="601.06" y="408.11" width="1.45" height="5.19" fill="#d2b044"/>
<rect x="602.45" y="408.83" width="1.45" height="4.47" fill="#d2b044"/>
<rect x="603.75" y="408.77" width="1.45" height="4.53" fill="#d2b044"/>
<rect x="605.11" y="408.40" width="1.45" height="4.90" fill="#d2b044"/>
<rect x="606.03" y="408.72" width="1.45" height="4.58" fill="#d2b044"/>
<rect x="607.06" y="408.70" width="1.45" height="4.60" fill="#d2b044"/>
<rect x="609.33" y="408.94" width="1.45" height="4.36" fill="#d2b044"/>
<rect x="610.61" y="409.10" width="1.45" height="4.20" fill="#d2b044"/>
<rect x="612.01" y="408.77" width="1.45" height="4.53" fill="#d2b044"/>
<rect x="613.40" y="408.50" width="1.45" height="4.80" fill="#d2b044"/>
<rect x="614.41" y="408.33" width="1.45" height="4.97" fill="#d2b044"/>
<rect x="615.81" y="408.84" width="1.45" height="4.46" fill="#d2b044"/>
<rect x="617.03" y="409.14" width="1.45" height="4.16" fill="#d2b044"/>
<rect x="618.20" y="408.28" width="1.45" height="5.02" fill="#d2b044"/>
<rect x="620.55" y="408.76" width="1.45" height="4.54" fill="#d2b044"/>
<rect x="621.60" y="408.80" width="1.45" height="4.50" fill="#d2b044"/>
<rect x="622.84" y="408.92" width="1.45" height="4.38" fill="#d2b044"/>
<rect x="625.35" y="409.26" width="1.45" height="4.04" fill="#d2b044"/>
<rect x="626.73" y="408.45" width="1.45" height="4.85" fill="#d2b044"/>
<rect x="627.95" y="408.35" width="1.45" height="4.95" fill="#d2b044"/>
<rect x="628.86" y="408.75" width="1.45" height="4.55" fill="#d2b044"/>
<rect x="629.77" y="409.02" width="1.45" height="4.28" fill="#d2b044"/>
<rect x="630.75" y="408.54" width="1.45" height="4.76" fill="#d2b044"/>
<rect x="631.89" y="408.51" width="1.45" height="4.79" fill="#d2b044"/>
<rect x="634.51" y="408.73" width="1.45" height="4.57" fill="#d2b044"/>
<rect x="635.51" y="408.73" width="1.45" height="4.57" fill="#d2b044"/>
<rect x="636.80" y="408.97" width="1.45" height="4.33" fill="#d2b044"/>
<rect x="637.89" y="408.68" width="1.45" height="4.62" fill="#d2b044"/>
<rect x="639.13" y="408.83" width="1.45" height="4.47" fill="#d2b044"/>
<rect x="642.71" y="408.76" width="1.45" height="4.54" fill="#d2b044"/>
<rect x="645.06" y="408.24" width="1.45" height="5.06" fill="#d2b044"/>
<rect x="647.56" y="409.05" width="1.45" height="4.25" fill="#d2b044"/>
<rect x="648.85" y="408.53" width="1.45" height="4.77" fill="#d2b044"/>
<rect x="650.15" y="408.22" width="1.45" height="5.08" fill="#d2b044"/>
<rect x="652.78" y="408.92" width="1.45" height="4.38" fill="#d2b044"/>
<rect x="654.18" y="408.88" width="1.45" height="4.42" fill="#d2b044"/>
<rect x="655.13" y="408.64" width="1.45" height="4.66" fill="#d2b044"/>
<rect x="656.45" y="409.27" width="1.45" height="4.03" fill="#d2b044"/>
<rect x="657.80" y="408.34" width="1.45" height="4.96" fill="#d2b044"/>
<rect x="658.79" y="408.35" width="1.45" height="4.95" fill="#d2b044"/>
<rect x="659.77" y="408.68" width="1.45" height="4.62" fill="#d2b044"/>
<rect x="661.07" y="408.47" width="1.45" height="4.83" fill="#d2b044"/>
<rect x="662.49" y="408.16" width="1.45" height="5.14" fill="#d2b044"/>
<rect x="663.44" y="408.67" width="1.45" height="4.63" fill="#d2b044"/>
<rect x="664.49" y="408.53" width="1.45" height="4.77" fill="#d2b044"/>
<rect x="665.68" y="408.63" width="1.45" height="4.67" fill="#d2b044"/>
<rect x="666.75" y="408.29" width="1.45" height="5.01" fill="#d2b044"/>
<rect x="668.15" y="408.28" width="1.45" height="5.02" fill="#d2b044"/>
<rect x="669.58" y="408.61" width="1.45" height="4.69" fill="#d2b044"/>
<rect x="670.59" y="408.70" width="1.45" height="4.60" fill="#d2b044"/>
<rect x="671.83" y="408.14" width="1.45" height="5.16" fill="#d2b044"/>
<rect x="673.01" y="408.34" width="1.45" height="4.96" fill="#d2b044"/>
<rect x="674.22" y="408.47" width="1.45" height="4.83" fill="#d2b044"/>
<rect x="675.15" y="408.80" width="1.45" height="4.50" fill="#d2b044"/>
<rect x="441.27" y="433.90" width="1.45" height="4.10" fill="#c0622c"/>
<rect x="444.17" y="427.90" width="1.45" height="10.10" fill="#c0622c"/>
<rect x="445.17" y="428.30" width="1.45" height="9.70" fill="#c0622c"/>
<rect x="447.67" y="418.90" width="1.45" height="19.10" fill="#c0622c"/>
<rect x="450.27" y="425.10" width="1.45" height="12.90" fill="#c0622c"/>
<rect x="458.67" y="431.00" width="1.45" height="7.00" fill="#c0622c"/>
<rect x="462.88" y="434.10" width="1.45" height="3.90" fill="#c0622c"/>
<rect x="463.97" y="434.10" width="1.45" height="3.90" fill="#c0622c"/>
<rect x="465.38" y="428.30" width="1.45" height="9.70" fill="#c0622c"/>
<rect x="475.88" y="431.80" width="1.45" height="6.20" fill="#c0622c"/>
<rect x="477.07" y="432.10" width="1.45" height="5.90" fill="#c0622c"/>
<rect x="478.17" y="432.50" width="1.45" height="5.50" fill="#c0622c"/>
<rect x="480.97" y="432.10" width="1.45" height="5.90" fill="#c0622c"/>
<rect x="482.38" y="432.10" width="1.45" height="5.90" fill="#c0622c"/>
<rect x="483.77" y="432.10" width="1.45" height="5.90" fill="#c0622c"/>
<rect x="485.27" y="433.00" width="1.45" height="5.00" fill="#c0622c"/>
<rect x="487.57" y="431.20" width="1.45" height="6.80" fill="#c0622c"/>
<rect x="488.77" y="432.00" width="1.45" height="6.00" fill="#c0622c"/>
<rect x="490.27" y="432.00" width="1.45" height="6.00" fill="#c0622c"/>
<rect x="491.67" y="432.00" width="1.45" height="6.00" fill="#c0622c"/>
<rect x="493.67" y="418.00" width="1.45" height="20.00" fill="#c0622c"/>
<rect x="494.57" y="425.40" width="1.45" height="12.60" fill="#c0622c"/>
<rect x="496.27" y="433.00" width="1.45" height="5.00" fill="#c0622c"/>
<rect x="497.77" y="433.00" width="1.45" height="5.00" fill="#c0622c"/>
<rect x="499.27" y="433.00" width="1.45" height="5.00" fill="#c0622c"/>
<rect x="500.77" y="432.50" width="1.45" height="5.50" fill="#c0622c"/>
<rect x="506.77" y="426.00" width="1.45" height="12.00" fill="#c0622c"/>
<rect x="542.27" y="430.00" width="1.45" height="8.00" fill="#c0622c"/>
<rect x="548.67" y="428.40" width="1.45" height="9.60" fill="#c0622c"/>
<rect x="501.77" y="433.80" width="1.45" height="4.20" fill="#c0622c"/>
<rect x="502.81" y="433.62" width="1.45" height="4.38" fill="#c0622c"/>
<rect x="504.02" y="433.58" width="1.45" height="4.42" fill="#c0622c"/>
<rect x="504.98" y="433.42" width="1.45" height="4.58" fill="#c0622c"/>
<rect x="508.30" y="433.89" width="1.45" height="4.11" fill="#c0622c"/>
<rect x="509.21" y="433.75" width="1.45" height="4.25" fill="#c0622c"/>
<rect x="510.19" y="433.98" width="1.45" height="4.02" fill="#c0622c"/>
<rect x="511.35" y="433.54" width="1.45" height="4.46" fill="#c0622c"/>
<rect x="512.28" y="433.52" width="1.45" height="4.48" fill="#c0622c"/>
<rect x="513.30" y="433.65" width="1.45" height="4.35" fill="#c0622c"/>
<rect x="514.36" y="433.88" width="1.45" height="4.12" fill="#c0622c"/>
<rect x="515.48" y="433.52" width="1.45" height="4.48" fill="#c0622c"/>
<rect x="516.70" y="433.16" width="1.45" height="4.84" fill="#c0622c"/>
<rect x="517.62" y="433.21" width="1.45" height="4.79" fill="#c0622c"/>
<rect x="518.87" y="433.75" width="1.45" height="4.25" fill="#c0622c"/>
<rect x="520.13" y="433.00" width="1.45" height="5.00" fill="#c0622c"/>
<rect x="521.37" y="433.84" width="1.45" height="4.16" fill="#c0622c"/>
<rect x="522.54" y="433.99" width="1.45" height="4.01" fill="#c0622c"/>
<rect x="523.75" y="433.23" width="1.45" height="4.77" fill="#c0622c"/>
<rect x="524.62" y="433.35" width="1.45" height="4.65" fill="#c0622c"/>
<rect x="525.43" y="433.35" width="1.45" height="4.65" fill="#c0622c"/>
<rect x="527.54" y="433.27" width="1.45" height="4.73" fill="#c0622c"/>
<rect x="528.59" y="433.89" width="1.45" height="4.11" fill="#c0622c"/>
<rect x="529.43" y="434.06" width="1.45" height="3.94" fill="#c0622c"/>
<rect x="530.50" y="433.47" width="1.45" height="4.53" fill="#c0622c"/>
<rect x="531.37" y="433.88" width="1.45" height="4.12" fill="#c0622c"/>
<rect x="533.86" y="434.03" width="1.45" height="3.97" fill="#c0622c"/>
<rect x="535.13" y="433.26" width="1.45" height="4.74" fill="#c0622c"/>
<rect x="536.10" y="433.53" width="1.45" height="4.47" fill="#c0622c"/>
<rect x="537.11" y="434.09" width="1.45" height="3.91" fill="#c0622c"/>
<rect x="538.26" y="433.90" width="1.45" height="4.10" fill="#c0622c"/>
<rect x="539.29" y="433.65" width="1.45" height="4.35" fill="#c0622c"/>
<rect x="540.19" y="433.54" width="1.45" height="4.46" fill="#c0622c"/>
<rect x="541.00" y="433.22" width="1.45" height="4.78" fill="#c0622c"/>
<rect x="543.38" y="433.66" width="1.45" height="4.34" fill="#c0622c"/>
<rect x="544.48" y="433.02" width="1.45" height="4.98" fill="#c0622c"/>
<rect x="545.68" y="433.10" width="1.45" height="4.90" fill="#c0622c"/>
<rect x="546.85" y="433.20" width="1.45" height="4.80" fill="#c0622c"/>
<rect x="547.86" y="433.13" width="1.45" height="4.87" fill="#c0622c"/>
<rect x="550.19" y="433.65" width="1.45" height="4.35" fill="#c0622c"/>
<rect x="551.35" y="433.72" width="1.45" height="4.28" fill="#c0622c"/>
<rect x="552.38" y="433.71" width="1.45" height="4.29" fill="#c0622c"/>
<rect x="553.50" y="433.84" width="1.45" height="4.16" fill="#c0622c"/>
<rect x="554.77" y="433.73" width="1.45" height="4.27" fill="#c0622c"/>
<rect x="555.90" y="433.51" width="1.45" height="4.49" fill="#c0622c"/>
<rect x="558.02" y="433.26" width="1.45" height="4.74" fill="#c0622c"/>
<rect x="559.31" y="433.42" width="1.45" height="4.58" fill="#c0622c"/>
<rect x="560.48" y="433.66" width="1.45" height="4.34" fill="#c0622c"/>
<rect x="561.30" y="433.69" width="1.45" height="4.31" fill="#c0622c"/>
<rect x="562.15" y="433.10" width="1.45" height="4.90" fill="#c0622c"/>
<rect x="563.23" y="433.04" width="1.45" height="4.96" fill="#c0622c"/>
<rect x="565.43" y="434.02" width="1.45" height="3.98" fill="#c0622c"/>
<rect x="566.53" y="434.05" width="1.45" height="3.95" fill="#c0622c"/>
<rect x="567.80" y="433.58" width="1.45" height="4.42" fill="#c0622c"/>
<rect x="568.68" y="433.43" width="1.45" height="4.57" fill="#c0622c"/>
<rect x="569.51" y="433.64" width="1.45" height="4.36" fill="#c0622c"/>
<rect x="570.57" y="433.70" width="1.45" height="4.30" fill="#c0622c"/>
<rect x="571.52" y="433.48" width="1.45" height="4.52" fill="#c0622c"/>
<rect x="572.46" y="433.77" width="1.45" height="4.23" fill="#c0622c"/>
<rect x="573.26" y="434.05" width="1.45" height="3.95" fill="#c0622c"/>
<rect x="574.14" y="433.67" width="1.45" height="4.33" fill="#c0622c"/>
<rect x="575.39" y="434.04" width="1.45" height="3.96" fill="#c0622c"/>
<rect x="576.69" y="434.02" width="1.45" height="3.98" fill="#c0622c"/>
<rect x="577.94" y="433.57" width="1.45" height="4.43" fill="#c0622c"/>
<rect x="579.22" y="433.52" width="1.45" height="4.48" fill="#c0622c"/>
<rect x="580.49" y="433.58" width="1.45" height="4.42" fill="#c0622c"/>
<rect x="581.78" y="433.44" width="1.45" height="4.56" fill="#c0622c"/>
<rect x="582.64" y="433.60" width="1.45" height="4.40" fill="#c0622c"/>
<rect x="583.54" y="433.52" width="1.45" height="4.48" fill="#c0622c"/>
<rect x="584.40" y="433.37" width="1.45" height="4.63" fill="#c0622c"/>
<rect x="585.43" y="433.46" width="1.45" height="4.54" fill="#c0622c"/>
<rect x="586.44" y="433.52" width="1.45" height="4.48" fill="#c0622c"/>
<rect x="588.91" y="433.97" width="1.45" height="4.03" fill="#c0622c"/>
<rect x="590.15" y="433.41" width="1.45" height="4.59" fill="#c0622c"/>
<rect x="591.13" y="433.35" width="1.45" height="4.65" fill="#c0622c"/>
<rect x="592.22" y="433.40" width="1.45" height="4.60" fill="#c0622c"/>
<rect x="593.39" y="433.83" width="1.45" height="4.17" fill="#c0622c"/>
<rect x="594.68" y="433.13" width="1.45" height="4.87" fill="#c0622c"/>
<rect x="595.50" y="433.80" width="1.45" height="4.20" fill="#c0622c"/>
<rect x="596.52" y="433.99" width="1.45" height="4.01" fill="#c0622c"/>
<rect x="597.59" y="434.00" width="1.45" height="4.00" fill="#c0622c"/>
<rect x="598.72" y="433.41" width="1.45" height="4.59" fill="#c0622c"/>
<rect x="599.71" y="433.87" width="1.45" height="4.13" fill="#c0622c"/>
<rect x="600.68" y="433.18" width="1.45" height="4.82" fill="#c0622c"/>
<rect x="601.52" y="433.21" width="1.45" height="4.79" fill="#c0622c"/>
<rect x="602.63" y="433.87" width="1.45" height="4.13" fill="#c0622c"/>
<rect x="603.64" y="433.21" width="1.45" height="4.79" fill="#c0622c"/>
<rect x="604.63" y="433.01" width="1.45" height="4.99" fill="#c0622c"/>
<rect x="605.59" y="433.28" width="1.45" height="4.72" fill="#c0622c"/>
<rect x="606.85" y="433.69" width="1.45" height="4.31" fill="#c0622c"/>
<rect x="607.70" y="434.01" width="1.45" height="3.99" fill="#c0622c"/>
<rect x="608.54" y="433.57" width="1.45" height="4.43" fill="#c0622c"/>
<rect x="609.68" y="433.25" width="1.45" height="4.75" fill="#c0622c"/>
<rect x="610.52" y="433.37" width="1.45" height="4.63" fill="#c0622c"/>
<rect x="611.36" y="433.30" width="1.45" height="4.70" fill="#c0622c"/>
<rect x="612.51" y="433.94" width="1.45" height="4.06" fill="#c0622c"/>
<rect x="613.49" y="433.70" width="1.45" height="4.30" fill="#c0622c"/>
<rect x="614.35" y="433.47" width="1.45" height="4.53" fill="#c0622c"/>
<rect x="615.61" y="433.10" width="1.45" height="4.90" fill="#c0622c"/>
<rect x="616.63" y="433.76" width="1.45" height="4.24" fill="#c0622c"/>
<rect x="617.58" y="433.07" width="1.45" height="4.93" fill="#c0622c"/>
<rect x="618.83" y="433.70" width="1.45" height="4.30" fill="#c0622c"/>
<rect x="619.81" y="433.66" width="1.45" height="4.34" fill="#c0622c"/>
<rect x="620.81" y="433.48" width="1.45" height="4.52" fill="#c0622c"/>
<rect x="622.01" y="433.18" width="1.45" height="4.82" fill="#c0622c"/>
<rect x="623.09" y="433.27" width="1.45" height="4.73" fill="#c0622c"/>
<rect x="624.33" y="434.08" width="1.45" height="3.92" fill="#c0622c"/>
<rect x="625.39" y="433.48" width="1.45" height="4.52" fill="#c0622c"/>
<rect x="626.67" y="433.22" width="1.45" height="4.78" fill="#c0622c"/>
<rect x="627.50" y="433.23" width="1.45" height="4.77" fill="#c0622c"/>
<rect x="628.34" y="433.29" width="1.45" height="4.71" fill="#c0622c"/>
<rect x="629.59" y="433.40" width="1.45" height="4.60" fill="#c0622c"/>
<rect x="630.47" y="433.39" width="1.45" height="4.61" fill="#c0622c"/>
<rect x="631.39" y="433.26" width="1.45" height="4.74" fill="#c0622c"/>
<rect x="632.45" y="433.67" width="1.45" height="4.33" fill="#c0622c"/>
<rect x="634.55" y="433.51" width="1.45" height="4.49" fill="#c0622c"/>
<rect x="635.71" y="433.09" width="1.45" height="4.91" fill="#c0622c"/>
<rect x="636.72" y="433.37" width="1.45" height="4.63" fill="#c0622c"/>
<rect x="637.95" y="433.18" width="1.45" height="4.82" fill="#c0622c"/>
<rect x="640.31" y="433.32" width="1.45" height="4.68" fill="#c0622c"/>
<rect x="641.51" y="433.64" width="1.45" height="4.36" fill="#c0622c"/>
<rect x="642.39" y="433.01" width="1.45" height="4.99" fill="#c0622c"/>
<rect x="643.37" y="433.88" width="1.45" height="4.12" fill="#c0622c"/>
<rect x="644.39" y="433.03" width="1.45" height="4.97" fill="#c0622c"/>
<rect x="645.22" y="433.97" width="1.45" height="4.03" fill="#c0622c"/>
<rect x="646.34" y="433.90" width="1.45" height="4.10" fill="#c0622c"/>
<rect x="647.17" y="433.46" width="1.45" height="4.54" fill="#c0622c"/>
<rect x="648.42" y="433.98" width="1.45" height="4.02" fill="#c0622c"/>
<rect x="649.32" y="433.84" width="1.45" height="4.16" fill="#c0622c"/>
<rect x="650.48" y="433.85" width="1.45" height="4.15" fill="#c0622c"/>
<rect x="651.37" y="433.91" width="1.45" height="4.09" fill="#c0622c"/>
<rect x="652.55" y="433.50" width="1.45" height="4.50" fill="#c0622c"/>
<rect x="653.76" y="433.81" width="1.45" height="4.19" fill="#c0622c"/>
<rect x="655.00" y="433.72" width="1.45" height="4.28" fill="#c0622c"/>
<rect x="657.11" y="434.05" width="1.45" height="3.95" fill="#c0622c"/>
<rect x="658.39" y="433.68" width="1.45" height="4.32" fill="#c0622c"/>
<rect x="659.45" y="433.80" width="1.45" height="4.20" fill="#c0622c"/>
<rect x="660.75" y="433.84" width="1.45" height="4.16" fill="#c0622c"/>
<rect x="661.55" y="433.69" width="1.45" height="4.31" fill="#c0622c"/>
<rect x="662.75" y="433.43" width="1.45" height="4.57" fill="#c0622c"/>
<rect x="663.63" y="433.75" width="1.45" height="4.25" fill="#c0622c"/>
<rect x="664.56" y="433.53" width="1.45" height="4.47" fill="#c0622c"/>
<rect x="666.61" y="433.93" width="1.45" height="4.07" fill="#c0622c"/>
<rect x="667.80" y="433.20" width="1.45" height="4.80" fill="#c0622c"/>
<rect x="669.02" y="434.01" width="1.45" height="3.99" fill="#c0622c"/>
<rect x="669.95" y="433.99" width="1.45" height="4.01" fill="#c0622c"/>
<rect x="670.99" y="433.05" width="1.45" height="4.95" fill="#c0622c"/>
<rect x="672.09" y="433.77" width="1.45" height="4.23" fill="#c0622c"/>
<rect x="673.28" y="433.09" width="1.45" height="4.91" fill="#c0622c"/>
<rect x="674.13" y="433.87" width="1.45" height="4.13" fill="#c0622c"/>
<rect x="675.20" y="433.93" width="1.45" height="4.07" fill="#c0622c"/>
<clipPath id="eclip"><rect x="427" y="248" width="250" height="190"/></clipPath>
<g clip-path="url(#eclip)">
<text x="594.4" y="292.3" font-size="12.7" fill="#000"><tspan>Li</tspan><tspan font-size="8.38" dy="3.05">2.7</tspan><tspan dy="-3.05">Y</tspan><tspan font-size="8.38" dy="3.05">0.7</tspan><tspan dy="-3.05">Zr</tspan><tspan font-size="8.38" dy="3.05">0.3</tspan><tspan dy="-3.05">Cl</tspan><tspan font-size="8.38" dy="3.05">6</tspan></text>
<text x="594.4" y="322.8" font-size="12.7" fill="#000"><tspan>Li</tspan><tspan font-size="8.38" dy="3.05">2.6</tspan><tspan dy="-3.05">Y</tspan><tspan font-size="8.38" dy="3.05">0.6</tspan><tspan dy="-3.05">Zr</tspan><tspan font-size="8.38" dy="3.05">0.4</tspan><tspan dy="-3.05">Cl</tspan><tspan font-size="8.38" dy="3.05">6</tspan></text>
<text x="594.4" y="348.2" font-size="12.7" fill="#000"><tspan>Li</tspan><tspan font-size="8.38" dy="3.05">2.5</tspan><tspan dy="-3.05">Y</tspan><tspan font-size="8.38" dy="3.05">0.5</tspan><tspan dy="-3.05">Zr</tspan><tspan font-size="8.38" dy="3.05">0.5</tspan><tspan dy="-3.05">Cl</tspan><tspan font-size="8.38" dy="3.05">6</tspan></text>
<text x="594.4" y="372.8" font-size="12.7" fill="#000"><tspan>Li</tspan><tspan font-size="8.38" dy="3.05">2.4</tspan><tspan dy="-3.05">Y</tspan><tspan font-size="8.38" dy="3.05">0.4</tspan><tspan dy="-3.05">Zr</tspan><tspan font-size="8.38" dy="3.05">0.6</tspan><tspan dy="-3.05">Cl</tspan><tspan font-size="8.38" dy="3.05">6</tspan></text>
</g>
<text x="595.0" y="401.0" font-size="12.8" fill="#000">LiYCl(P3m1)</text>
<line x1="638.30" y1="389.70" x2="645.10" y2="389.70" stroke="#222" stroke-width="1.1" />
<text x="591.8" y="426.6" font-size="12.8" fill="#000">LiYZrCl(Pnma)</text>
<text transform="translate(413.2,390.0) rotate(-90)" font-size="14.2" fill="#000" textLength="95" lengthAdjust="spacingAndGlyphs">Intensity(a.u.)</text>
<text x="516.9" y="469.3" font-size="15" fill="#000">2</text>
<text x="526.8" y="469.3" font-size="16.5" fill="#000" font-style="italic" font-family="Liberation Serif">θ</text>
<text x="538.8" y="469.2" font-size="14.2" fill="#000" textLength="58.2" lengthAdjust="spacingAndGlyphs">(degree)</text>
<text x="397.20" y="251.70" font-size="27" text-anchor="start" fill="#000" stroke="#000" stroke-width="0.35">e</text></svg></body></html>
